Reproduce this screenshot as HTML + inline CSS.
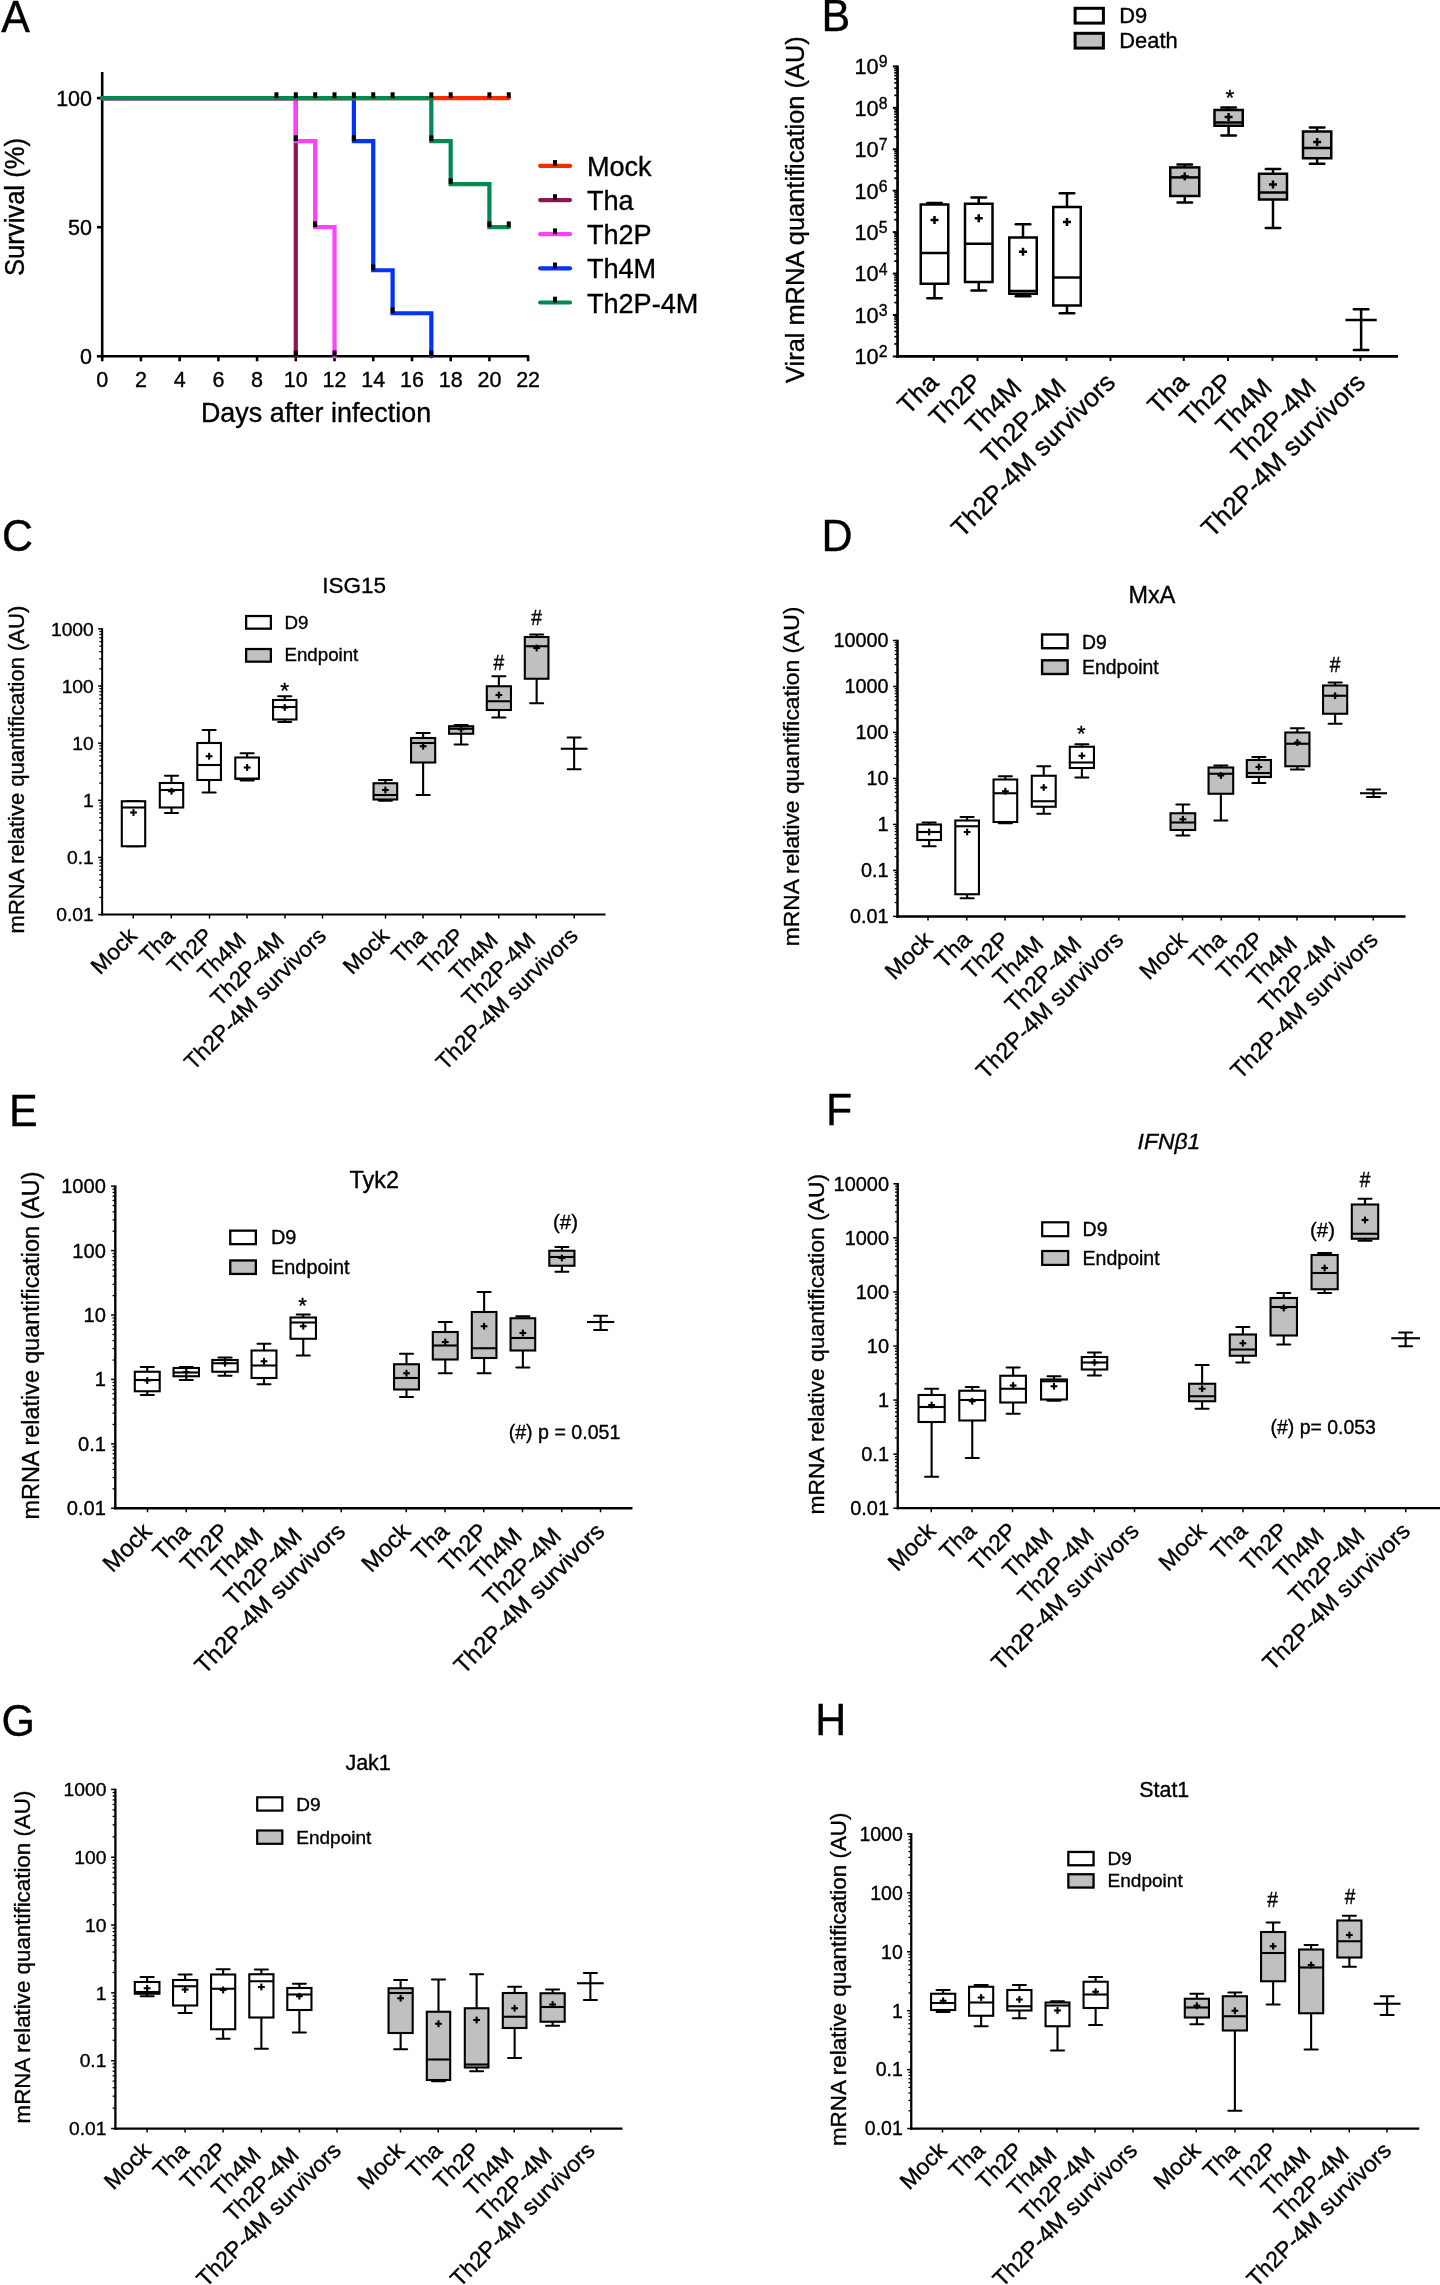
<!DOCTYPE html>
<html><head><meta charset="utf-8"><title>Figure</title>
<style>
html,body{margin:0;padding:0;background:#fff;}
body{width:1440px;height:2285px;overflow:hidden;}
svg{display:block;will-change:transform;}
svg text{font-family:"Liberation Sans", sans-serif;fill:#000;stroke:#000;stroke-width:0.35px;}
</style></head><body>
<svg width="1440" height="2285" viewBox="0 0 1440 2285">
<rect x="0" y="0" width="1440" height="2285" fill="#fff"/>
<text x="0" y="0" font-size="43" transform="translate(1.2 31.7) scale(1 1.045)">A</text>
<line x1="102.2" y1="72" x2="102.2" y2="357.55" stroke="#000" stroke-width="2.6" stroke-linecap="butt"/>
<line x1="100.9" y1="356.3" x2="529.12" y2="356.3" stroke="#000" stroke-width="2.6" stroke-linecap="butt"/>
<line x1="96.9" y1="356.3" x2="102.2" y2="356.3" stroke="#000" stroke-width="2.6" stroke-linecap="butt"/>
<text x="92" y="363.9" font-size="21.5" text-anchor="end" >0</text>
<line x1="96.9" y1="227.2" x2="102.2" y2="227.2" stroke="#000" stroke-width="2.6" stroke-linecap="butt"/>
<text x="92" y="234.8" font-size="21.5" text-anchor="end" >50</text>
<line x1="96.9" y1="98.1" x2="102.2" y2="98.1" stroke="#000" stroke-width="2.6" stroke-linecap="butt"/>
<text x="92" y="105.7" font-size="21.5" text-anchor="end" >100</text>
<line x1="102.2" y1="356.3" x2="102.2" y2="361.3" stroke="#000" stroke-width="2.6" stroke-linecap="butt"/>
<text x="102.2" y="386.6" font-size="21.5" text-anchor="middle" >0</text>
<line x1="140.92" y1="356.3" x2="140.92" y2="361.3" stroke="#000" stroke-width="2.6" stroke-linecap="butt"/>
<text x="140.92" y="386.6" font-size="21.5" text-anchor="middle" >2</text>
<line x1="179.64" y1="356.3" x2="179.64" y2="361.3" stroke="#000" stroke-width="2.6" stroke-linecap="butt"/>
<text x="179.64" y="386.6" font-size="21.5" text-anchor="middle" >4</text>
<line x1="218.36" y1="356.3" x2="218.36" y2="361.3" stroke="#000" stroke-width="2.6" stroke-linecap="butt"/>
<text x="218.36" y="386.6" font-size="21.5" text-anchor="middle" >6</text>
<line x1="257.08" y1="356.3" x2="257.08" y2="361.3" stroke="#000" stroke-width="2.6" stroke-linecap="butt"/>
<text x="257.08" y="386.6" font-size="21.5" text-anchor="middle" >8</text>
<line x1="295.8" y1="356.3" x2="295.8" y2="361.3" stroke="#000" stroke-width="2.6" stroke-linecap="butt"/>
<text x="295.8" y="386.6" font-size="21.5" text-anchor="middle" >10</text>
<line x1="334.52" y1="356.3" x2="334.52" y2="361.3" stroke="#000" stroke-width="2.6" stroke-linecap="butt"/>
<text x="334.52" y="386.6" font-size="21.5" text-anchor="middle" >12</text>
<line x1="373.24" y1="356.3" x2="373.24" y2="361.3" stroke="#000" stroke-width="2.6" stroke-linecap="butt"/>
<text x="373.24" y="386.6" font-size="21.5" text-anchor="middle" >14</text>
<line x1="411.96" y1="356.3" x2="411.96" y2="361.3" stroke="#000" stroke-width="2.6" stroke-linecap="butt"/>
<text x="411.96" y="386.6" font-size="21.5" text-anchor="middle" >16</text>
<line x1="450.68" y1="356.3" x2="450.68" y2="361.3" stroke="#000" stroke-width="2.6" stroke-linecap="butt"/>
<text x="450.68" y="386.6" font-size="21.5" text-anchor="middle" >18</text>
<line x1="489.4" y1="356.3" x2="489.4" y2="361.3" stroke="#000" stroke-width="2.6" stroke-linecap="butt"/>
<text x="489.4" y="386.6" font-size="21.5" text-anchor="middle" >20</text>
<line x1="528.12" y1="356.3" x2="528.12" y2="361.3" stroke="#000" stroke-width="2.6" stroke-linecap="butt"/>
<text x="528.12" y="386.6" font-size="21.5" text-anchor="middle" >22</text>
<text x="316.05" y="422.3" font-size="26.9" text-anchor="middle" >Days after infection</text>
<text x="0" y="0" font-size="25.6" text-anchor="middle" transform="translate(24 207) rotate(-90) scale(1 1.07)">Survival (%)</text>
<path d="M102.2 98.1 H295.8 V356.3" fill="none" stroke="#8c164f" stroke-width="4.2" stroke-linecap="round" stroke-linejoin="miter"/>
<path d="M102.2 98.1 H295.8 V141.142 H315.16 V227.2 H334.52 V356.3" fill="none" stroke="#ff40ff" stroke-width="4.2" stroke-linecap="round" stroke-linejoin="miter"/>
<path d="M102.2 98.1 H353.88 V141.142 H373.24 V270.242 H392.6 V313.258 H431.32 V356.3" fill="none" stroke="#0033ff" stroke-width="4.2" stroke-linecap="round" stroke-linejoin="miter"/>
<path d="M102.2 98.1 H508.76" fill="none" stroke="#ff2a00" stroke-width="4.2" stroke-linecap="round" stroke-linejoin="miter"/>
<path d="M102.2 98.1 H431.32 V141.142 H450.68 V184.158 H489.4 V227.2 H508.76" fill="none" stroke="#008a50" stroke-width="4.2" stroke-linecap="round" stroke-linejoin="miter"/>
<rect x="274.44" y="92.3" width="4" height="5.8" fill="#000"/>
<rect x="293.8" y="92.3" width="4" height="5.8" fill="#000"/>
<rect x="313.16" y="92.3" width="4" height="5.8" fill="#000"/>
<rect x="332.52" y="92.3" width="4" height="5.8" fill="#000"/>
<rect x="351.88" y="92.3" width="4" height="5.8" fill="#000"/>
<rect x="371.24" y="92.3" width="4" height="5.8" fill="#000"/>
<rect x="390.6" y="92.3" width="4" height="5.8" fill="#000"/>
<rect x="429.32" y="92.3" width="4" height="5.8" fill="#000"/>
<rect x="448.68" y="92.3" width="4" height="5.8" fill="#000"/>
<rect x="487.4" y="92.3" width="4" height="5.8" fill="#000"/>
<rect x="506.76" y="92.3" width="4" height="5.8" fill="#000"/>
<rect x="293.8" y="135.342" width="4" height="5.8" fill="#000"/>
<rect x="351.88" y="135.342" width="4" height="5.8" fill="#000"/>
<rect x="429.32" y="135.342" width="4" height="5.8" fill="#000"/>
<rect x="448.68" y="178.358" width="4" height="5.8" fill="#000"/>
<rect x="313.16" y="221.4" width="4" height="5.8" fill="#000"/>
<rect x="487.4" y="221.4" width="4" height="5.8" fill="#000"/>
<rect x="506.76" y="221.4" width="4" height="5.8" fill="#000"/>
<rect x="371.24" y="264.442" width="4" height="5.8" fill="#000"/>
<rect x="390.6" y="307.458" width="4" height="5.8" fill="#000"/>
<rect x="293.8" y="350.5" width="4" height="5.8" fill="#000"/>
<rect x="332.52" y="350.5" width="4" height="5.8" fill="#000"/>
<rect x="429.32" y="350.5" width="4" height="5.8" fill="#000"/>
<line x1="540.2" y1="165.9" x2="570" y2="165.9" stroke="#ff2a00" stroke-width="4.2" stroke-linecap="round"/>
<rect x="553" y="160.1" width="4" height="5.8" fill="#000"/>
<text x="586.9" y="176" font-size="27.1" text-anchor="start" >Mock</text>
<line x1="540.2" y1="200.05" x2="570" y2="200.05" stroke="#8c164f" stroke-width="4.2" stroke-linecap="round"/>
<rect x="553" y="194.25" width="4" height="5.8" fill="#000"/>
<text x="586.9" y="210.15" font-size="27.1" text-anchor="start" >Tha</text>
<line x1="540.2" y1="234.2" x2="570" y2="234.2" stroke="#ff40ff" stroke-width="4.2" stroke-linecap="round"/>
<rect x="553" y="228.4" width="4" height="5.8" fill="#000"/>
<text x="586.9" y="244.3" font-size="27.1" text-anchor="start" >Th2P</text>
<line x1="540.2" y1="268.35" x2="570" y2="268.35" stroke="#0033ff" stroke-width="4.2" stroke-linecap="round"/>
<rect x="553" y="262.55" width="4" height="5.8" fill="#000"/>
<text x="586.9" y="278.45" font-size="27.1" text-anchor="start" >Th4M</text>
<line x1="540.2" y1="302.5" x2="570" y2="302.5" stroke="#008a50" stroke-width="4.2" stroke-linecap="round"/>
<rect x="553" y="296.7" width="4" height="5.8" fill="#000"/>
<text x="586.9" y="312.6" font-size="27.1" text-anchor="start" >Th2P-4M</text>
<text x="0" y="0" font-size="43" transform="translate(821.5 31.4) scale(1 1.045)">B</text>
<line x1="897.55" y1="65.4" x2="897.55" y2="357.8" stroke="#000" stroke-width="2.7" stroke-linecap="butt"/>
<line x1="896.2" y1="356.45" x2="1398" y2="356.45" stroke="#000" stroke-width="2.7" stroke-linecap="butt"/>
<line x1="892.8" y1="66.4" x2="897.55" y2="66.4" stroke="#000" stroke-width="2" stroke-linecap="butt"/>
<text x="878.7" y="74.3" font-size="21.7" text-anchor="end" >10</text>
<text x="878.8" y="67.4" font-size="15.8" text-anchor="start" >9</text>
<line x1="892.8" y1="107.836" x2="897.55" y2="107.836" stroke="#000" stroke-width="2" stroke-linecap="butt"/>
<text x="878.7" y="115.736" font-size="21.7" text-anchor="end" >10</text>
<text x="878.8" y="108.836" font-size="15.8" text-anchor="start" >8</text>
<line x1="892.8" y1="149.271" x2="897.55" y2="149.271" stroke="#000" stroke-width="2" stroke-linecap="butt"/>
<text x="878.7" y="157.171" font-size="21.7" text-anchor="end" >10</text>
<text x="878.8" y="150.271" font-size="15.8" text-anchor="start" >7</text>
<line x1="892.8" y1="190.707" x2="897.55" y2="190.707" stroke="#000" stroke-width="2" stroke-linecap="butt"/>
<text x="878.7" y="198.607" font-size="21.7" text-anchor="end" >10</text>
<text x="878.8" y="191.707" font-size="15.8" text-anchor="start" >6</text>
<line x1="892.8" y1="232.143" x2="897.55" y2="232.143" stroke="#000" stroke-width="2" stroke-linecap="butt"/>
<text x="878.7" y="240.043" font-size="21.7" text-anchor="end" >10</text>
<text x="878.8" y="233.143" font-size="15.8" text-anchor="start" >5</text>
<line x1="892.8" y1="273.579" x2="897.55" y2="273.579" stroke="#000" stroke-width="2" stroke-linecap="butt"/>
<text x="878.7" y="281.479" font-size="21.7" text-anchor="end" >10</text>
<text x="878.8" y="274.579" font-size="15.8" text-anchor="start" >4</text>
<line x1="892.8" y1="315.014" x2="897.55" y2="315.014" stroke="#000" stroke-width="2" stroke-linecap="butt"/>
<text x="878.7" y="322.914" font-size="21.7" text-anchor="end" >10</text>
<text x="878.8" y="316.014" font-size="15.8" text-anchor="start" >3</text>
<line x1="892.8" y1="356.45" x2="897.55" y2="356.45" stroke="#000" stroke-width="2" stroke-linecap="butt"/>
<text x="878.7" y="364.35" font-size="21.7" text-anchor="end" >10</text>
<text x="878.8" y="357.45" font-size="15.8" text-anchor="start" >2</text>
<line x1="894.25" y1="95.362" x2="897.55" y2="95.362" stroke="#000" stroke-width="1.7" stroke-linecap="butt"/>
<line x1="894.25" y1="88.066" x2="897.55" y2="88.066" stroke="#000" stroke-width="1.7" stroke-linecap="butt"/>
<line x1="894.25" y1="82.889" x2="897.55" y2="82.889" stroke="#000" stroke-width="1.7" stroke-linecap="butt"/>
<line x1="894.25" y1="78.873" x2="897.55" y2="78.873" stroke="#000" stroke-width="1.7" stroke-linecap="butt"/>
<line x1="894.25" y1="75.592" x2="897.55" y2="75.592" stroke="#000" stroke-width="1.7" stroke-linecap="butt"/>
<line x1="894.25" y1="72.818" x2="897.55" y2="72.818" stroke="#000" stroke-width="1.7" stroke-linecap="butt"/>
<line x1="894.25" y1="70.416" x2="897.55" y2="70.416" stroke="#000" stroke-width="1.7" stroke-linecap="butt"/>
<line x1="894.25" y1="68.296" x2="897.55" y2="68.296" stroke="#000" stroke-width="1.7" stroke-linecap="butt"/>
<line x1="894.25" y1="136.798" x2="897.55" y2="136.798" stroke="#000" stroke-width="1.7" stroke-linecap="butt"/>
<line x1="894.25" y1="129.502" x2="897.55" y2="129.502" stroke="#000" stroke-width="1.7" stroke-linecap="butt"/>
<line x1="894.25" y1="124.325" x2="897.55" y2="124.325" stroke="#000" stroke-width="1.7" stroke-linecap="butt"/>
<line x1="894.25" y1="120.309" x2="897.55" y2="120.309" stroke="#000" stroke-width="1.7" stroke-linecap="butt"/>
<line x1="894.25" y1="117.028" x2="897.55" y2="117.028" stroke="#000" stroke-width="1.7" stroke-linecap="butt"/>
<line x1="894.25" y1="114.254" x2="897.55" y2="114.254" stroke="#000" stroke-width="1.7" stroke-linecap="butt"/>
<line x1="894.25" y1="111.851" x2="897.55" y2="111.851" stroke="#000" stroke-width="1.7" stroke-linecap="butt"/>
<line x1="894.25" y1="109.732" x2="897.55" y2="109.732" stroke="#000" stroke-width="1.7" stroke-linecap="butt"/>
<line x1="894.25" y1="178.234" x2="897.55" y2="178.234" stroke="#000" stroke-width="1.7" stroke-linecap="butt"/>
<line x1="894.25" y1="170.937" x2="897.55" y2="170.937" stroke="#000" stroke-width="1.7" stroke-linecap="butt"/>
<line x1="894.25" y1="165.76" x2="897.55" y2="165.76" stroke="#000" stroke-width="1.7" stroke-linecap="butt"/>
<line x1="894.25" y1="161.745" x2="897.55" y2="161.745" stroke="#000" stroke-width="1.7" stroke-linecap="butt"/>
<line x1="894.25" y1="158.464" x2="897.55" y2="158.464" stroke="#000" stroke-width="1.7" stroke-linecap="butt"/>
<line x1="894.25" y1="155.69" x2="897.55" y2="155.69" stroke="#000" stroke-width="1.7" stroke-linecap="butt"/>
<line x1="894.25" y1="153.287" x2="897.55" y2="153.287" stroke="#000" stroke-width="1.7" stroke-linecap="butt"/>
<line x1="894.25" y1="151.167" x2="897.55" y2="151.167" stroke="#000" stroke-width="1.7" stroke-linecap="butt"/>
<line x1="894.25" y1="219.669" x2="897.55" y2="219.669" stroke="#000" stroke-width="1.7" stroke-linecap="butt"/>
<line x1="894.25" y1="212.373" x2="897.55" y2="212.373" stroke="#000" stroke-width="1.7" stroke-linecap="butt"/>
<line x1="894.25" y1="207.196" x2="897.55" y2="207.196" stroke="#000" stroke-width="1.7" stroke-linecap="butt"/>
<line x1="894.25" y1="203.181" x2="897.55" y2="203.181" stroke="#000" stroke-width="1.7" stroke-linecap="butt"/>
<line x1="894.25" y1="199.9" x2="897.55" y2="199.9" stroke="#000" stroke-width="1.7" stroke-linecap="butt"/>
<line x1="894.25" y1="197.126" x2="897.55" y2="197.126" stroke="#000" stroke-width="1.7" stroke-linecap="butt"/>
<line x1="894.25" y1="194.723" x2="897.55" y2="194.723" stroke="#000" stroke-width="1.7" stroke-linecap="butt"/>
<line x1="894.25" y1="192.603" x2="897.55" y2="192.603" stroke="#000" stroke-width="1.7" stroke-linecap="butt"/>
<line x1="894.25" y1="261.105" x2="897.55" y2="261.105" stroke="#000" stroke-width="1.7" stroke-linecap="butt"/>
<line x1="894.25" y1="253.809" x2="897.55" y2="253.809" stroke="#000" stroke-width="1.7" stroke-linecap="butt"/>
<line x1="894.25" y1="248.632" x2="897.55" y2="248.632" stroke="#000" stroke-width="1.7" stroke-linecap="butt"/>
<line x1="894.25" y1="244.616" x2="897.55" y2="244.616" stroke="#000" stroke-width="1.7" stroke-linecap="butt"/>
<line x1="894.25" y1="241.335" x2="897.55" y2="241.335" stroke="#000" stroke-width="1.7" stroke-linecap="butt"/>
<line x1="894.25" y1="238.561" x2="897.55" y2="238.561" stroke="#000" stroke-width="1.7" stroke-linecap="butt"/>
<line x1="894.25" y1="236.158" x2="897.55" y2="236.158" stroke="#000" stroke-width="1.7" stroke-linecap="butt"/>
<line x1="894.25" y1="234.039" x2="897.55" y2="234.039" stroke="#000" stroke-width="1.7" stroke-linecap="butt"/>
<line x1="894.25" y1="302.541" x2="897.55" y2="302.541" stroke="#000" stroke-width="1.7" stroke-linecap="butt"/>
<line x1="894.25" y1="295.244" x2="897.55" y2="295.244" stroke="#000" stroke-width="1.7" stroke-linecap="butt"/>
<line x1="894.25" y1="290.067" x2="897.55" y2="290.067" stroke="#000" stroke-width="1.7" stroke-linecap="butt"/>
<line x1="894.25" y1="286.052" x2="897.55" y2="286.052" stroke="#000" stroke-width="1.7" stroke-linecap="butt"/>
<line x1="894.25" y1="282.771" x2="897.55" y2="282.771" stroke="#000" stroke-width="1.7" stroke-linecap="butt"/>
<line x1="894.25" y1="279.997" x2="897.55" y2="279.997" stroke="#000" stroke-width="1.7" stroke-linecap="butt"/>
<line x1="894.25" y1="277.594" x2="897.55" y2="277.594" stroke="#000" stroke-width="1.7" stroke-linecap="butt"/>
<line x1="894.25" y1="275.475" x2="897.55" y2="275.475" stroke="#000" stroke-width="1.7" stroke-linecap="butt"/>
<line x1="894.25" y1="343.977" x2="897.55" y2="343.977" stroke="#000" stroke-width="1.7" stroke-linecap="butt"/>
<line x1="894.25" y1="336.68" x2="897.55" y2="336.68" stroke="#000" stroke-width="1.7" stroke-linecap="butt"/>
<line x1="894.25" y1="331.503" x2="897.55" y2="331.503" stroke="#000" stroke-width="1.7" stroke-linecap="butt"/>
<line x1="894.25" y1="327.488" x2="897.55" y2="327.488" stroke="#000" stroke-width="1.7" stroke-linecap="butt"/>
<line x1="894.25" y1="324.207" x2="897.55" y2="324.207" stroke="#000" stroke-width="1.7" stroke-linecap="butt"/>
<line x1="894.25" y1="321.433" x2="897.55" y2="321.433" stroke="#000" stroke-width="1.7" stroke-linecap="butt"/>
<line x1="894.25" y1="319.03" x2="897.55" y2="319.03" stroke="#000" stroke-width="1.7" stroke-linecap="butt"/>
<line x1="894.25" y1="316.91" x2="897.55" y2="316.91" stroke="#000" stroke-width="1.7" stroke-linecap="butt"/>
<line x1="933.75" y1="356.45" x2="933.75" y2="360.95" stroke="#000" stroke-width="2" stroke-linecap="butt"/>
<line x1="977.5" y1="356.45" x2="977.5" y2="360.95" stroke="#000" stroke-width="2" stroke-linecap="butt"/>
<line x1="1022" y1="356.45" x2="1022" y2="360.95" stroke="#000" stroke-width="2" stroke-linecap="butt"/>
<line x1="1066.5" y1="356.45" x2="1066.5" y2="360.95" stroke="#000" stroke-width="2" stroke-linecap="butt"/>
<line x1="1110.5" y1="356.45" x2="1110.5" y2="360.95" stroke="#000" stroke-width="2" stroke-linecap="butt"/>
<line x1="1183.75" y1="356.45" x2="1183.75" y2="360.95" stroke="#000" stroke-width="2" stroke-linecap="butt"/>
<line x1="1228" y1="356.45" x2="1228" y2="360.95" stroke="#000" stroke-width="2" stroke-linecap="butt"/>
<line x1="1272.5" y1="356.45" x2="1272.5" y2="360.95" stroke="#000" stroke-width="2" stroke-linecap="butt"/>
<line x1="1316.5" y1="356.45" x2="1316.5" y2="360.95" stroke="#000" stroke-width="2" stroke-linecap="butt"/>
<line x1="1360.5" y1="356.45" x2="1360.5" y2="360.95" stroke="#000" stroke-width="2" stroke-linecap="butt"/>
<text x="940.05" y="383.95" font-size="26.1" text-anchor="end" transform="rotate(-45 940.05 383.95)">Tha</text>
<text x="983.8" y="383.95" font-size="26.1" text-anchor="end" transform="rotate(-45 983.8 383.95)">Th2P</text>
<text x="1028.3" y="383.95" font-size="26.1" text-anchor="end" transform="rotate(-45 1028.3 383.95)">Th4M&#160;</text>
<text x="1072.8" y="383.95" font-size="26.1" text-anchor="end" transform="rotate(-45 1072.8 383.95)">Th2P-4M&#160;</text>
<text x="1116.8" y="383.95" font-size="26.1" text-anchor="end" transform="rotate(-45 1116.8 383.95)">Th2P-4M survivors</text>
<text x="1190.05" y="383.95" font-size="26.1" text-anchor="end" transform="rotate(-45 1190.05 383.95)">Tha</text>
<text x="1234.3" y="383.95" font-size="26.1" text-anchor="end" transform="rotate(-45 1234.3 383.95)">Th2P</text>
<text x="1278.8" y="383.95" font-size="26.1" text-anchor="end" transform="rotate(-45 1278.8 383.95)">Th4M&#160;</text>
<text x="1322.8" y="383.95" font-size="26.1" text-anchor="end" transform="rotate(-45 1322.8 383.95)">Th2P-4M&#160;</text>
<text x="1366.8" y="383.95" font-size="26.1" text-anchor="end" transform="rotate(-45 1366.8 383.95)">Th2P-4M survivors</text>
<line x1="934.5" y1="203" x2="934.5" y2="204.5" stroke="#000" stroke-width="2.5" stroke-linecap="butt"/>
<line x1="934.5" y1="283.75" x2="934.5" y2="298.25" stroke="#000" stroke-width="2.5" stroke-linecap="butt"/>
<line x1="927.25" y1="203" x2="941.75" y2="203" stroke="#000" stroke-width="2.5" stroke-linecap="round"/>
<line x1="927.25" y1="298.25" x2="941.75" y2="298.25" stroke="#000" stroke-width="2.5" stroke-linecap="round"/>
<rect x="920.75" y="204.5" width="27.5" height="79.25" fill="#fff" stroke="#000" stroke-width="2.5"/>
<line x1="920.75" y1="253" x2="948.25" y2="253" stroke="#000" stroke-width="2.5" stroke-linecap="butt"/>
<line x1="930.5" y1="220" x2="938.5" y2="220" stroke="#000" stroke-width="2.5" stroke-linecap="butt"/>
<line x1="934.5" y1="216" x2="934.5" y2="224" stroke="#000" stroke-width="2.5" stroke-linecap="butt"/>
<line x1="978.75" y1="197.5" x2="978.75" y2="203.75" stroke="#000" stroke-width="2.5" stroke-linecap="butt"/>
<line x1="978.75" y1="282" x2="978.75" y2="290.5" stroke="#000" stroke-width="2.5" stroke-linecap="butt"/>
<line x1="971.5" y1="197.5" x2="986" y2="197.5" stroke="#000" stroke-width="2.5" stroke-linecap="round"/>
<line x1="971.5" y1="290.5" x2="986" y2="290.5" stroke="#000" stroke-width="2.5" stroke-linecap="round"/>
<rect x="965" y="203.75" width="27.5" height="78.25" fill="#fff" stroke="#000" stroke-width="2.5"/>
<line x1="965" y1="243.75" x2="992.5" y2="243.75" stroke="#000" stroke-width="2.5" stroke-linecap="butt"/>
<line x1="974.75" y1="218.25" x2="982.75" y2="218.25" stroke="#000" stroke-width="2.5" stroke-linecap="butt"/>
<line x1="978.75" y1="214.25" x2="978.75" y2="222.25" stroke="#000" stroke-width="2.5" stroke-linecap="butt"/>
<line x1="1023" y1="224.25" x2="1023" y2="237.5" stroke="#000" stroke-width="2.5" stroke-linecap="butt"/>
<line x1="1023" y1="293.75" x2="1023" y2="296.25" stroke="#000" stroke-width="2.5" stroke-linecap="butt"/>
<line x1="1015.75" y1="224.25" x2="1030.25" y2="224.25" stroke="#000" stroke-width="2.5" stroke-linecap="round"/>
<line x1="1015.75" y1="296.25" x2="1030.25" y2="296.25" stroke="#000" stroke-width="2.5" stroke-linecap="round"/>
<rect x="1009.25" y="237.5" width="27.5" height="56.25" fill="#fff" stroke="#000" stroke-width="2.5"/>
<line x1="1009.25" y1="291" x2="1036.75" y2="291" stroke="#000" stroke-width="2.5" stroke-linecap="butt"/>
<line x1="1019" y1="251.75" x2="1027" y2="251.75" stroke="#000" stroke-width="2.5" stroke-linecap="butt"/>
<line x1="1023" y1="247.75" x2="1023" y2="255.75" stroke="#000" stroke-width="2.5" stroke-linecap="butt"/>
<line x1="1067" y1="193.25" x2="1067" y2="207" stroke="#000" stroke-width="2.5" stroke-linecap="butt"/>
<line x1="1067" y1="305.5" x2="1067" y2="313.25" stroke="#000" stroke-width="2.5" stroke-linecap="butt"/>
<line x1="1059.75" y1="193.25" x2="1074.25" y2="193.25" stroke="#000" stroke-width="2.5" stroke-linecap="round"/>
<line x1="1059.75" y1="313.25" x2="1074.25" y2="313.25" stroke="#000" stroke-width="2.5" stroke-linecap="round"/>
<rect x="1053.25" y="207" width="27.5" height="98.5" fill="#fff" stroke="#000" stroke-width="2.5"/>
<line x1="1053.25" y1="277.5" x2="1080.75" y2="277.5" stroke="#000" stroke-width="2.5" stroke-linecap="butt"/>
<line x1="1063" y1="222" x2="1071" y2="222" stroke="#000" stroke-width="2.5" stroke-linecap="butt"/>
<line x1="1067" y1="218" x2="1067" y2="226" stroke="#000" stroke-width="2.5" stroke-linecap="butt"/>
<line x1="1184.75" y1="164.5" x2="1184.75" y2="167.4" stroke="#000" stroke-width="2.5" stroke-linecap="butt"/>
<line x1="1184.75" y1="196" x2="1184.75" y2="202.6" stroke="#000" stroke-width="2.5" stroke-linecap="butt"/>
<line x1="1177.5" y1="164.5" x2="1192" y2="164.5" stroke="#000" stroke-width="2.5" stroke-linecap="round"/>
<line x1="1177.5" y1="202.6" x2="1192" y2="202.6" stroke="#000" stroke-width="2.5" stroke-linecap="round"/>
<rect x="1170.25" y="167.4" width="29" height="28.6" fill="#c0c0c0" stroke="#000" stroke-width="2.5"/>
<line x1="1170.25" y1="177.4" x2="1199.25" y2="177.4" stroke="#000" stroke-width="2.5" stroke-linecap="butt"/>
<line x1="1180.75" y1="176.4" x2="1188.75" y2="176.4" stroke="#000" stroke-width="2.5" stroke-linecap="butt"/>
<line x1="1184.75" y1="172.4" x2="1184.75" y2="180.4" stroke="#000" stroke-width="2.5" stroke-linecap="butt"/>
<line x1="1228.625" y1="107.5" x2="1228.625" y2="110" stroke="#000" stroke-width="2.5" stroke-linecap="butt"/>
<line x1="1228.625" y1="125.75" x2="1228.625" y2="135.5" stroke="#000" stroke-width="2.5" stroke-linecap="butt"/>
<line x1="1221.375" y1="107.5" x2="1235.875" y2="107.5" stroke="#000" stroke-width="2.5" stroke-linecap="round"/>
<line x1="1221.375" y1="135.5" x2="1235.875" y2="135.5" stroke="#000" stroke-width="2.5" stroke-linecap="round"/>
<rect x="1214.5" y="110" width="28.25" height="15.75" fill="#c0c0c0" stroke="#000" stroke-width="2.5"/>
<line x1="1214.5" y1="122.5" x2="1242.75" y2="122.5" stroke="#000" stroke-width="2.5" stroke-linecap="butt"/>
<line x1="1224.625" y1="117" x2="1232.625" y2="117" stroke="#000" stroke-width="2.5" stroke-linecap="butt"/>
<line x1="1228.625" y1="113" x2="1228.625" y2="121" stroke="#000" stroke-width="2.5" stroke-linecap="butt"/>
<line x1="1273" y1="169" x2="1273" y2="173.75" stroke="#000" stroke-width="2.5" stroke-linecap="butt"/>
<line x1="1273" y1="199.5" x2="1273" y2="228" stroke="#000" stroke-width="2.5" stroke-linecap="butt"/>
<line x1="1265.75" y1="169" x2="1280.25" y2="169" stroke="#000" stroke-width="2.5" stroke-linecap="round"/>
<line x1="1265.75" y1="228" x2="1280.25" y2="228" stroke="#000" stroke-width="2.5" stroke-linecap="round"/>
<rect x="1259" y="173.75" width="28" height="25.75" fill="#c0c0c0" stroke="#000" stroke-width="2.5"/>
<line x1="1259" y1="192.5" x2="1287" y2="192.5" stroke="#000" stroke-width="2.5" stroke-linecap="butt"/>
<line x1="1269" y1="184.5" x2="1277" y2="184.5" stroke="#000" stroke-width="2.5" stroke-linecap="butt"/>
<line x1="1273" y1="180.5" x2="1273" y2="188.5" stroke="#000" stroke-width="2.5" stroke-linecap="butt"/>
<line x1="1317.125" y1="127.5" x2="1317.125" y2="131.5" stroke="#000" stroke-width="2.5" stroke-linecap="butt"/>
<line x1="1317.125" y1="158.25" x2="1317.125" y2="163.75" stroke="#000" stroke-width="2.5" stroke-linecap="butt"/>
<line x1="1309.875" y1="127.5" x2="1324.375" y2="127.5" stroke="#000" stroke-width="2.5" stroke-linecap="round"/>
<line x1="1309.875" y1="163.75" x2="1324.375" y2="163.75" stroke="#000" stroke-width="2.5" stroke-linecap="round"/>
<rect x="1303" y="131.5" width="28.25" height="26.75" fill="#c0c0c0" stroke="#000" stroke-width="2.5"/>
<line x1="1303" y1="148" x2="1331.25" y2="148" stroke="#000" stroke-width="2.5" stroke-linecap="butt"/>
<line x1="1313.125" y1="142" x2="1321.125" y2="142" stroke="#000" stroke-width="2.5" stroke-linecap="butt"/>
<line x1="1317.125" y1="138" x2="1317.125" y2="146" stroke="#000" stroke-width="2.5" stroke-linecap="butt"/>
<line x1="1361.125" y1="309.25" x2="1361.125" y2="350" stroke="#000" stroke-width="2.5" stroke-linecap="butt"/>
<line x1="1353.875" y1="309.25" x2="1368.375" y2="309.25" stroke="#000" stroke-width="2.5" stroke-linecap="round"/>
<line x1="1353.875" y1="350" x2="1368.375" y2="350" stroke="#000" stroke-width="2.5" stroke-linecap="round"/>
<line x1="1345.5" y1="320" x2="1376.75" y2="320" stroke="#000" stroke-width="2.5" stroke-linecap="butt"/>
<rect x="1075.1" y="8.3" width="28.3" height="14.8" fill="#fff" stroke="#000" stroke-width="3"/>
<rect x="1075.1" y="33.3" width="28.3" height="14.8" fill="#c0c0c0" stroke="#000" stroke-width="3"/>
<text x="1119.3" y="23" font-size="21.9" text-anchor="start" >D9</text>
<text x="1119.3" y="47.8" font-size="21.9" text-anchor="start" >Death</text>
<text x="804.5" y="209.6" font-size="25.4" text-anchor="middle" transform="rotate(-90 804.5 209.6)">Viral mRNA quantification (AU)</text>
<text x="1230" y="104.8" font-size="22.5" text-anchor="middle" >*</text>
<text x="0" y="0" font-size="43" transform="translate(2.05 551.2) scale(1 1.045)">C</text>
<line x1="102.15" y1="628.15" x2="102.15" y2="915.6" stroke="#000" stroke-width="2" stroke-linecap="butt"/>
<line x1="101.15" y1="914.6" x2="605.5" y2="914.6" stroke="#000" stroke-width="2" stroke-linecap="butt"/>
<line x1="98.1" y1="628.9" x2="102.15" y2="628.9" stroke="#000" stroke-width="1.5" stroke-linecap="butt"/>
<text x="93.75" y="635.637" font-size="19.25" text-anchor="end" >1000</text>
<line x1="98.1" y1="686.04" x2="102.15" y2="686.04" stroke="#000" stroke-width="1.5" stroke-linecap="butt"/>
<text x="93.75" y="692.777" font-size="19.25" text-anchor="end" >100</text>
<line x1="98.1" y1="743.18" x2="102.15" y2="743.18" stroke="#000" stroke-width="1.5" stroke-linecap="butt"/>
<text x="93.75" y="749.917" font-size="19.25" text-anchor="end" >10</text>
<line x1="98.1" y1="800.32" x2="102.15" y2="800.32" stroke="#000" stroke-width="1.5" stroke-linecap="butt"/>
<text x="93.75" y="807.057" font-size="19.25" text-anchor="end" >1</text>
<line x1="98.1" y1="857.46" x2="102.15" y2="857.46" stroke="#000" stroke-width="1.5" stroke-linecap="butt"/>
<text x="93.75" y="864.197" font-size="19.25" text-anchor="end" >0.1</text>
<line x1="98.1" y1="914.6" x2="102.15" y2="914.6" stroke="#000" stroke-width="1.5" stroke-linecap="butt"/>
<text x="93.75" y="921.337" font-size="19.25" text-anchor="end" >0.01</text>
<line x1="99.35" y1="668.839" x2="102.15" y2="668.839" stroke="#000" stroke-width="1.275" stroke-linecap="butt"/>
<line x1="99.35" y1="658.777" x2="102.15" y2="658.777" stroke="#000" stroke-width="1.275" stroke-linecap="butt"/>
<line x1="99.35" y1="651.638" x2="102.15" y2="651.638" stroke="#000" stroke-width="1.275" stroke-linecap="butt"/>
<line x1="99.35" y1="646.101" x2="102.15" y2="646.101" stroke="#000" stroke-width="1.275" stroke-linecap="butt"/>
<line x1="99.35" y1="641.576" x2="102.15" y2="641.576" stroke="#000" stroke-width="1.275" stroke-linecap="butt"/>
<line x1="99.35" y1="637.751" x2="102.15" y2="637.751" stroke="#000" stroke-width="1.275" stroke-linecap="butt"/>
<line x1="99.35" y1="634.437" x2="102.15" y2="634.437" stroke="#000" stroke-width="1.275" stroke-linecap="butt"/>
<line x1="99.35" y1="631.515" x2="102.15" y2="631.515" stroke="#000" stroke-width="1.275" stroke-linecap="butt"/>
<line x1="99.35" y1="725.979" x2="102.15" y2="725.979" stroke="#000" stroke-width="1.275" stroke-linecap="butt"/>
<line x1="99.35" y1="715.917" x2="102.15" y2="715.917" stroke="#000" stroke-width="1.275" stroke-linecap="butt"/>
<line x1="99.35" y1="708.778" x2="102.15" y2="708.778" stroke="#000" stroke-width="1.275" stroke-linecap="butt"/>
<line x1="99.35" y1="703.241" x2="102.15" y2="703.241" stroke="#000" stroke-width="1.275" stroke-linecap="butt"/>
<line x1="99.35" y1="698.716" x2="102.15" y2="698.716" stroke="#000" stroke-width="1.275" stroke-linecap="butt"/>
<line x1="99.35" y1="694.891" x2="102.15" y2="694.891" stroke="#000" stroke-width="1.275" stroke-linecap="butt"/>
<line x1="99.35" y1="691.577" x2="102.15" y2="691.577" stroke="#000" stroke-width="1.275" stroke-linecap="butt"/>
<line x1="99.35" y1="688.655" x2="102.15" y2="688.655" stroke="#000" stroke-width="1.275" stroke-linecap="butt"/>
<line x1="99.35" y1="783.119" x2="102.15" y2="783.119" stroke="#000" stroke-width="1.275" stroke-linecap="butt"/>
<line x1="99.35" y1="773.057" x2="102.15" y2="773.057" stroke="#000" stroke-width="1.275" stroke-linecap="butt"/>
<line x1="99.35" y1="765.918" x2="102.15" y2="765.918" stroke="#000" stroke-width="1.275" stroke-linecap="butt"/>
<line x1="99.35" y1="760.381" x2="102.15" y2="760.381" stroke="#000" stroke-width="1.275" stroke-linecap="butt"/>
<line x1="99.35" y1="755.856" x2="102.15" y2="755.856" stroke="#000" stroke-width="1.275" stroke-linecap="butt"/>
<line x1="99.35" y1="752.031" x2="102.15" y2="752.031" stroke="#000" stroke-width="1.275" stroke-linecap="butt"/>
<line x1="99.35" y1="748.717" x2="102.15" y2="748.717" stroke="#000" stroke-width="1.275" stroke-linecap="butt"/>
<line x1="99.35" y1="745.795" x2="102.15" y2="745.795" stroke="#000" stroke-width="1.275" stroke-linecap="butt"/>
<line x1="99.35" y1="840.259" x2="102.15" y2="840.259" stroke="#000" stroke-width="1.275" stroke-linecap="butt"/>
<line x1="99.35" y1="830.197" x2="102.15" y2="830.197" stroke="#000" stroke-width="1.275" stroke-linecap="butt"/>
<line x1="99.35" y1="823.058" x2="102.15" y2="823.058" stroke="#000" stroke-width="1.275" stroke-linecap="butt"/>
<line x1="99.35" y1="817.521" x2="102.15" y2="817.521" stroke="#000" stroke-width="1.275" stroke-linecap="butt"/>
<line x1="99.35" y1="812.996" x2="102.15" y2="812.996" stroke="#000" stroke-width="1.275" stroke-linecap="butt"/>
<line x1="99.35" y1="809.171" x2="102.15" y2="809.171" stroke="#000" stroke-width="1.275" stroke-linecap="butt"/>
<line x1="99.35" y1="805.857" x2="102.15" y2="805.857" stroke="#000" stroke-width="1.275" stroke-linecap="butt"/>
<line x1="99.35" y1="802.935" x2="102.15" y2="802.935" stroke="#000" stroke-width="1.275" stroke-linecap="butt"/>
<line x1="99.35" y1="897.399" x2="102.15" y2="897.399" stroke="#000" stroke-width="1.275" stroke-linecap="butt"/>
<line x1="99.35" y1="887.337" x2="102.15" y2="887.337" stroke="#000" stroke-width="1.275" stroke-linecap="butt"/>
<line x1="99.35" y1="880.198" x2="102.15" y2="880.198" stroke="#000" stroke-width="1.275" stroke-linecap="butt"/>
<line x1="99.35" y1="874.661" x2="102.15" y2="874.661" stroke="#000" stroke-width="1.275" stroke-linecap="butt"/>
<line x1="99.35" y1="870.136" x2="102.15" y2="870.136" stroke="#000" stroke-width="1.275" stroke-linecap="butt"/>
<line x1="99.35" y1="866.311" x2="102.15" y2="866.311" stroke="#000" stroke-width="1.275" stroke-linecap="butt"/>
<line x1="99.35" y1="862.997" x2="102.15" y2="862.997" stroke="#000" stroke-width="1.275" stroke-linecap="butt"/>
<line x1="99.35" y1="860.075" x2="102.15" y2="860.075" stroke="#000" stroke-width="1.275" stroke-linecap="butt"/>
<line x1="133.25" y1="914.6" x2="133.25" y2="918.6" stroke="#000" stroke-width="1.5" stroke-linecap="butt"/>
<line x1="171.25" y1="914.6" x2="171.25" y2="918.6" stroke="#000" stroke-width="1.5" stroke-linecap="butt"/>
<line x1="209.5" y1="914.6" x2="209.5" y2="918.6" stroke="#000" stroke-width="1.5" stroke-linecap="butt"/>
<line x1="247" y1="914.6" x2="247" y2="918.6" stroke="#000" stroke-width="1.5" stroke-linecap="butt"/>
<line x1="285" y1="914.6" x2="285" y2="918.6" stroke="#000" stroke-width="1.5" stroke-linecap="butt"/>
<line x1="322.5" y1="914.6" x2="322.5" y2="918.6" stroke="#000" stroke-width="1.5" stroke-linecap="butt"/>
<line x1="385.5" y1="914.6" x2="385.5" y2="918.6" stroke="#000" stroke-width="1.5" stroke-linecap="butt"/>
<line x1="423" y1="914.6" x2="423" y2="918.6" stroke="#000" stroke-width="1.5" stroke-linecap="butt"/>
<line x1="460.75" y1="914.6" x2="460.75" y2="918.6" stroke="#000" stroke-width="1.5" stroke-linecap="butt"/>
<line x1="498.75" y1="914.6" x2="498.75" y2="918.6" stroke="#000" stroke-width="1.5" stroke-linecap="butt"/>
<line x1="536.25" y1="914.6" x2="536.25" y2="918.6" stroke="#000" stroke-width="1.5" stroke-linecap="butt"/>
<line x1="574.25" y1="914.6" x2="574.25" y2="918.6" stroke="#000" stroke-width="1.5" stroke-linecap="butt"/>
<text x="138.25" y="937.3" font-size="22.6" text-anchor="end" transform="rotate(-45 138.25 937.3)">Mock</text>
<text x="176.25" y="937.3" font-size="22.6" text-anchor="end" transform="rotate(-45 176.25 937.3)">Tha</text>
<text x="214.5" y="937.3" font-size="22.6" text-anchor="end" transform="rotate(-45 214.5 937.3)">Th2P</text>
<text x="252" y="937.3" font-size="22.6" text-anchor="end" transform="rotate(-45 252 937.3)">Th4M&#160;</text>
<text x="290" y="937.3" font-size="22.6" text-anchor="end" transform="rotate(-45 290 937.3)">Th2P-4M&#160;</text>
<text x="327.5" y="937.3" font-size="22.6" text-anchor="end" transform="rotate(-45 327.5 937.3)">Th2P-4M survivors</text>
<text x="390.5" y="937.3" font-size="22.6" text-anchor="end" transform="rotate(-45 390.5 937.3)">Mock</text>
<text x="428" y="937.3" font-size="22.6" text-anchor="end" transform="rotate(-45 428 937.3)">Tha</text>
<text x="465.75" y="937.3" font-size="22.6" text-anchor="end" transform="rotate(-45 465.75 937.3)">Th2P</text>
<text x="503.75" y="937.3" font-size="22.6" text-anchor="end" transform="rotate(-45 503.75 937.3)">Th4M&#160;</text>
<text x="541.25" y="937.3" font-size="22.6" text-anchor="end" transform="rotate(-45 541.25 937.3)">Th2P-4M&#160;</text>
<text x="579.25" y="937.3" font-size="22.6" text-anchor="end" transform="rotate(-45 579.25 937.3)">Th2P-4M survivors</text>
<line x1="133.5" y1="801.25" x2="133.5" y2="801.25" stroke="#000" stroke-width="2.1" stroke-linecap="butt"/>
<line x1="133.5" y1="846.25" x2="133.5" y2="846.25" stroke="#000" stroke-width="2.1" stroke-linecap="butt"/>
<line x1="127" y1="801.25" x2="140" y2="801.25" stroke="#000" stroke-width="2.1" stroke-linecap="round"/>
<line x1="127" y1="846.25" x2="140" y2="846.25" stroke="#000" stroke-width="2.1" stroke-linecap="round"/>
<rect x="121.8" y="801.25" width="23.4" height="45" fill="#fff" stroke="#000" stroke-width="2.1"/>
<line x1="121.8" y1="807.5" x2="145.2" y2="807.5" stroke="#000" stroke-width="2.1" stroke-linecap="butt"/>
<line x1="130.1" y1="812.5" x2="136.9" y2="812.5" stroke="#000" stroke-width="2.1" stroke-linecap="butt"/>
<line x1="133.5" y1="809.1" x2="133.5" y2="815.9" stroke="#000" stroke-width="2.1" stroke-linecap="butt"/>
<line x1="171.5" y1="775.75" x2="171.5" y2="783" stroke="#000" stroke-width="2.1" stroke-linecap="butt"/>
<line x1="171.5" y1="807.5" x2="171.5" y2="813" stroke="#000" stroke-width="2.1" stroke-linecap="butt"/>
<line x1="165" y1="775.75" x2="178" y2="775.75" stroke="#000" stroke-width="2.1" stroke-linecap="round"/>
<line x1="165" y1="813" x2="178" y2="813" stroke="#000" stroke-width="2.1" stroke-linecap="round"/>
<rect x="159.8" y="783" width="23.4" height="24.5" fill="#fff" stroke="#000" stroke-width="2.1"/>
<line x1="159.8" y1="790" x2="183.2" y2="790" stroke="#000" stroke-width="2.1" stroke-linecap="butt"/>
<line x1="168.1" y1="791.25" x2="174.9" y2="791.25" stroke="#000" stroke-width="2.1" stroke-linecap="butt"/>
<line x1="171.5" y1="787.85" x2="171.5" y2="794.65" stroke="#000" stroke-width="2.1" stroke-linecap="butt"/>
<line x1="209.125" y1="730" x2="209.125" y2="743" stroke="#000" stroke-width="2.1" stroke-linecap="butt"/>
<line x1="209.125" y1="780" x2="209.125" y2="792.5" stroke="#000" stroke-width="2.1" stroke-linecap="butt"/>
<line x1="202.625" y1="730" x2="215.625" y2="730" stroke="#000" stroke-width="2.1" stroke-linecap="round"/>
<line x1="202.625" y1="792.5" x2="215.625" y2="792.5" stroke="#000" stroke-width="2.1" stroke-linecap="round"/>
<rect x="197.3" y="743" width="23.65" height="37" fill="#fff" stroke="#000" stroke-width="2.1"/>
<line x1="197.3" y1="765" x2="220.95" y2="765" stroke="#000" stroke-width="2.1" stroke-linecap="butt"/>
<line x1="205.725" y1="756.25" x2="212.525" y2="756.25" stroke="#000" stroke-width="2.1" stroke-linecap="butt"/>
<line x1="209.125" y1="752.85" x2="209.125" y2="759.65" stroke="#000" stroke-width="2.1" stroke-linecap="butt"/>
<line x1="247.125" y1="753.25" x2="247.125" y2="757.5" stroke="#000" stroke-width="2.1" stroke-linecap="butt"/>
<line x1="247.125" y1="778.75" x2="247.125" y2="780.5" stroke="#000" stroke-width="2.1" stroke-linecap="butt"/>
<line x1="240.625" y1="753.25" x2="253.625" y2="753.25" stroke="#000" stroke-width="2.1" stroke-linecap="round"/>
<line x1="240.625" y1="780.5" x2="253.625" y2="780.5" stroke="#000" stroke-width="2.1" stroke-linecap="round"/>
<rect x="235.3" y="757.5" width="23.65" height="21.25" fill="#fff" stroke="#000" stroke-width="2.1"/>
<line x1="235.3" y1="778.75" x2="258.95" y2="778.75" stroke="#000" stroke-width="2.1" stroke-linecap="butt"/>
<line x1="243.725" y1="767.5" x2="250.525" y2="767.5" stroke="#000" stroke-width="2.1" stroke-linecap="butt"/>
<line x1="247.125" y1="764.1" x2="247.125" y2="770.9" stroke="#000" stroke-width="2.1" stroke-linecap="butt"/>
<line x1="284.75" y1="696.25" x2="284.75" y2="700" stroke="#000" stroke-width="2.1" stroke-linecap="butt"/>
<line x1="284.75" y1="719.5" x2="284.75" y2="722" stroke="#000" stroke-width="2.1" stroke-linecap="butt"/>
<line x1="278.25" y1="696.25" x2="291.25" y2="696.25" stroke="#000" stroke-width="2.1" stroke-linecap="round"/>
<line x1="278.25" y1="722" x2="291.25" y2="722" stroke="#000" stroke-width="2.1" stroke-linecap="round"/>
<rect x="273.05" y="700" width="23.4" height="19.5" fill="#fff" stroke="#000" stroke-width="2.1"/>
<line x1="273.05" y1="707" x2="296.45" y2="707" stroke="#000" stroke-width="2.1" stroke-linecap="butt"/>
<line x1="281.35" y1="707.5" x2="288.15" y2="707.5" stroke="#000" stroke-width="2.1" stroke-linecap="butt"/>
<line x1="284.75" y1="704.1" x2="284.75" y2="710.9" stroke="#000" stroke-width="2.1" stroke-linecap="butt"/>
<line x1="385.375" y1="780" x2="385.375" y2="783.25" stroke="#000" stroke-width="2.1" stroke-linecap="butt"/>
<line x1="385.375" y1="799.5" x2="385.375" y2="800.75" stroke="#000" stroke-width="2.1" stroke-linecap="butt"/>
<line x1="378.875" y1="780" x2="391.875" y2="780" stroke="#000" stroke-width="2.1" stroke-linecap="round"/>
<line x1="378.875" y1="800.75" x2="391.875" y2="800.75" stroke="#000" stroke-width="2.1" stroke-linecap="round"/>
<rect x="373.55" y="783.25" width="23.65" height="16.25" fill="#c0c0c0" stroke="#000" stroke-width="2.1"/>
<line x1="373.55" y1="795" x2="397.2" y2="795" stroke="#000" stroke-width="2.1" stroke-linecap="butt"/>
<line x1="381.975" y1="790" x2="388.775" y2="790" stroke="#000" stroke-width="2.1" stroke-linecap="butt"/>
<line x1="385.375" y1="786.6" x2="385.375" y2="793.4" stroke="#000" stroke-width="2.1" stroke-linecap="butt"/>
<line x1="423.125" y1="733" x2="423.125" y2="738" stroke="#000" stroke-width="2.1" stroke-linecap="butt"/>
<line x1="423.125" y1="762.5" x2="423.125" y2="795" stroke="#000" stroke-width="2.1" stroke-linecap="butt"/>
<line x1="416.625" y1="733" x2="429.625" y2="733" stroke="#000" stroke-width="2.1" stroke-linecap="round"/>
<line x1="416.625" y1="795" x2="429.625" y2="795" stroke="#000" stroke-width="2.1" stroke-linecap="round"/>
<rect x="411.05" y="738" width="24.15" height="24.5" fill="#c0c0c0" stroke="#000" stroke-width="2.1"/>
<line x1="411.05" y1="743" x2="435.2" y2="743" stroke="#000" stroke-width="2.1" stroke-linecap="butt"/>
<line x1="419.725" y1="746.25" x2="426.525" y2="746.25" stroke="#000" stroke-width="2.1" stroke-linecap="butt"/>
<line x1="423.125" y1="742.85" x2="423.125" y2="749.65" stroke="#000" stroke-width="2.1" stroke-linecap="butt"/>
<line x1="461.125" y1="725" x2="461.125" y2="726.25" stroke="#000" stroke-width="2.1" stroke-linecap="butt"/>
<line x1="461.125" y1="733.75" x2="461.125" y2="744.5" stroke="#000" stroke-width="2.1" stroke-linecap="butt"/>
<line x1="454.625" y1="725" x2="467.625" y2="725" stroke="#000" stroke-width="2.1" stroke-linecap="round"/>
<line x1="454.625" y1="744.5" x2="467.625" y2="744.5" stroke="#000" stroke-width="2.1" stroke-linecap="round"/>
<rect x="449.05" y="726.25" width="24.15" height="7.5" fill="#c0c0c0" stroke="#000" stroke-width="2.1"/>
<line x1="449.05" y1="728.75" x2="473.2" y2="728.75" stroke="#000" stroke-width="2.1" stroke-linecap="butt"/>
<line x1="457.725" y1="729.25" x2="464.525" y2="729.25" stroke="#000" stroke-width="2.1" stroke-linecap="butt"/>
<line x1="461.125" y1="725.85" x2="461.125" y2="732.65" stroke="#000" stroke-width="2.1" stroke-linecap="butt"/>
<line x1="498.875" y1="676.25" x2="498.875" y2="686.25" stroke="#000" stroke-width="2.1" stroke-linecap="butt"/>
<line x1="498.875" y1="710" x2="498.875" y2="717.5" stroke="#000" stroke-width="2.1" stroke-linecap="butt"/>
<line x1="492.375" y1="676.25" x2="505.375" y2="676.25" stroke="#000" stroke-width="2.1" stroke-linecap="round"/>
<line x1="492.375" y1="717.5" x2="505.375" y2="717.5" stroke="#000" stroke-width="2.1" stroke-linecap="round"/>
<rect x="486.8" y="686.25" width="24.15" height="23.75" fill="#c0c0c0" stroke="#000" stroke-width="2.1"/>
<line x1="486.8" y1="701.25" x2="510.95" y2="701.25" stroke="#000" stroke-width="2.1" stroke-linecap="butt"/>
<line x1="495.475" y1="695" x2="502.275" y2="695" stroke="#000" stroke-width="2.1" stroke-linecap="butt"/>
<line x1="498.875" y1="691.6" x2="498.875" y2="698.4" stroke="#000" stroke-width="2.1" stroke-linecap="butt"/>
<line x1="536.625" y1="634.5" x2="536.625" y2="637" stroke="#000" stroke-width="2.1" stroke-linecap="butt"/>
<line x1="536.625" y1="678.75" x2="536.625" y2="703.25" stroke="#000" stroke-width="2.1" stroke-linecap="butt"/>
<line x1="530.125" y1="634.5" x2="543.125" y2="634.5" stroke="#000" stroke-width="2.1" stroke-linecap="round"/>
<line x1="530.125" y1="703.25" x2="543.125" y2="703.25" stroke="#000" stroke-width="2.1" stroke-linecap="round"/>
<rect x="524.8" y="637" width="23.65" height="41.75" fill="#c0c0c0" stroke="#000" stroke-width="2.1"/>
<line x1="524.8" y1="646.25" x2="548.45" y2="646.25" stroke="#000" stroke-width="2.1" stroke-linecap="butt"/>
<line x1="533.225" y1="648" x2="540.025" y2="648" stroke="#000" stroke-width="2.1" stroke-linecap="butt"/>
<line x1="536.625" y1="644.6" x2="536.625" y2="651.4" stroke="#000" stroke-width="2.1" stroke-linecap="butt"/>
<line x1="574.125" y1="737.5" x2="574.125" y2="769.25" stroke="#000" stroke-width="2.1" stroke-linecap="butt"/>
<line x1="567.625" y1="737.5" x2="580.625" y2="737.5" stroke="#000" stroke-width="2.1" stroke-linecap="round"/>
<line x1="567.625" y1="769.25" x2="580.625" y2="769.25" stroke="#000" stroke-width="2.1" stroke-linecap="round"/>
<line x1="560.75" y1="748.75" x2="587.5" y2="748.75" stroke="#000" stroke-width="2.1" stroke-linecap="butt"/>
<rect x="246.125" y="616.025" width="24.75" height="12.65" fill="#fff" stroke="#000" stroke-width="2.25"/>
<rect x="246.125" y="649.025" width="24.75" height="12.65" fill="#c0c0c0" stroke="#000" stroke-width="2.25"/>
<text x="284.5" y="628.9" font-size="18.7" text-anchor="start" >D9</text>
<text x="284.5" y="661.4" font-size="18.7" text-anchor="start" >Endpoint</text>
<text x="322.3" y="592.8" font-size="22.5" text-anchor="start" >ISG15</text>
<text x="23.9" y="769.6" font-size="22" text-anchor="middle" transform="rotate(-90 23.9 769.6)">mRNA relative quantification (AU)</text>
<text x="284.6" y="698.4" font-size="22.6" text-anchor="middle" >*</text>
<text x="0" y="0" font-size="19.2" text-anchor="middle" transform="translate(498.85 670.4) scale(1 1.12)">#</text>
<text x="0" y="0" font-size="19.2" text-anchor="middle" transform="translate(536.6 624.5) scale(1 1.12)">#</text>
<text x="0" y="0" font-size="43" transform="translate(821.5 551.4) scale(1 1.045)">D</text>
<line x1="897.5" y1="639.75" x2="897.5" y2="917.65" stroke="#000" stroke-width="2.5" stroke-linecap="butt"/>
<line x1="896.25" y1="916.4" x2="1405.5" y2="916.4" stroke="#000" stroke-width="2.5" stroke-linecap="butt"/>
<line x1="893" y1="640.5" x2="897.5" y2="640.5" stroke="#000" stroke-width="1.5" stroke-linecap="butt"/>
<text x="888.6" y="647.43" font-size="19.8" text-anchor="end" >10000</text>
<line x1="893" y1="686.483" x2="897.5" y2="686.483" stroke="#000" stroke-width="1.5" stroke-linecap="butt"/>
<text x="888.6" y="693.413" font-size="19.8" text-anchor="end" >1000</text>
<line x1="893" y1="732.467" x2="897.5" y2="732.467" stroke="#000" stroke-width="1.5" stroke-linecap="butt"/>
<text x="888.6" y="739.397" font-size="19.8" text-anchor="end" >100</text>
<line x1="893" y1="778.45" x2="897.5" y2="778.45" stroke="#000" stroke-width="1.5" stroke-linecap="butt"/>
<text x="888.6" y="785.38" font-size="19.8" text-anchor="end" >10</text>
<line x1="893" y1="824.433" x2="897.5" y2="824.433" stroke="#000" stroke-width="1.5" stroke-linecap="butt"/>
<text x="888.6" y="831.363" font-size="19.8" text-anchor="end" >1</text>
<line x1="893" y1="870.417" x2="897.5" y2="870.417" stroke="#000" stroke-width="1.5" stroke-linecap="butt"/>
<text x="888.6" y="877.347" font-size="19.8" text-anchor="end" >0.1</text>
<line x1="893" y1="916.4" x2="897.5" y2="916.4" stroke="#000" stroke-width="1.5" stroke-linecap="butt"/>
<text x="888.6" y="923.33" font-size="19.8" text-anchor="end" >0.01</text>
<line x1="894.7" y1="672.641" x2="897.5" y2="672.641" stroke="#000" stroke-width="1.275" stroke-linecap="butt"/>
<line x1="894.7" y1="664.544" x2="897.5" y2="664.544" stroke="#000" stroke-width="1.275" stroke-linecap="butt"/>
<line x1="894.7" y1="658.799" x2="897.5" y2="658.799" stroke="#000" stroke-width="1.275" stroke-linecap="butt"/>
<line x1="894.7" y1="654.342" x2="897.5" y2="654.342" stroke="#000" stroke-width="1.275" stroke-linecap="butt"/>
<line x1="894.7" y1="650.701" x2="897.5" y2="650.701" stroke="#000" stroke-width="1.275" stroke-linecap="butt"/>
<line x1="894.7" y1="647.623" x2="897.5" y2="647.623" stroke="#000" stroke-width="1.275" stroke-linecap="butt"/>
<line x1="894.7" y1="644.956" x2="897.5" y2="644.956" stroke="#000" stroke-width="1.275" stroke-linecap="butt"/>
<line x1="894.7" y1="642.604" x2="897.5" y2="642.604" stroke="#000" stroke-width="1.275" stroke-linecap="butt"/>
<line x1="894.7" y1="718.624" x2="897.5" y2="718.624" stroke="#000" stroke-width="1.275" stroke-linecap="butt"/>
<line x1="894.7" y1="710.527" x2="897.5" y2="710.527" stroke="#000" stroke-width="1.275" stroke-linecap="butt"/>
<line x1="894.7" y1="704.782" x2="897.5" y2="704.782" stroke="#000" stroke-width="1.275" stroke-linecap="butt"/>
<line x1="894.7" y1="700.326" x2="897.5" y2="700.326" stroke="#000" stroke-width="1.275" stroke-linecap="butt"/>
<line x1="894.7" y1="696.685" x2="897.5" y2="696.685" stroke="#000" stroke-width="1.275" stroke-linecap="butt"/>
<line x1="894.7" y1="693.606" x2="897.5" y2="693.606" stroke="#000" stroke-width="1.275" stroke-linecap="butt"/>
<line x1="894.7" y1="690.94" x2="897.5" y2="690.94" stroke="#000" stroke-width="1.275" stroke-linecap="butt"/>
<line x1="894.7" y1="688.587" x2="897.5" y2="688.587" stroke="#000" stroke-width="1.275" stroke-linecap="butt"/>
<line x1="894.7" y1="764.608" x2="897.5" y2="764.608" stroke="#000" stroke-width="1.275" stroke-linecap="butt"/>
<line x1="894.7" y1="756.51" x2="897.5" y2="756.51" stroke="#000" stroke-width="1.275" stroke-linecap="butt"/>
<line x1="894.7" y1="750.765" x2="897.5" y2="750.765" stroke="#000" stroke-width="1.275" stroke-linecap="butt"/>
<line x1="894.7" y1="746.309" x2="897.5" y2="746.309" stroke="#000" stroke-width="1.275" stroke-linecap="butt"/>
<line x1="894.7" y1="742.668" x2="897.5" y2="742.668" stroke="#000" stroke-width="1.275" stroke-linecap="butt"/>
<line x1="894.7" y1="739.59" x2="897.5" y2="739.59" stroke="#000" stroke-width="1.275" stroke-linecap="butt"/>
<line x1="894.7" y1="736.923" x2="897.5" y2="736.923" stroke="#000" stroke-width="1.275" stroke-linecap="butt"/>
<line x1="894.7" y1="734.571" x2="897.5" y2="734.571" stroke="#000" stroke-width="1.275" stroke-linecap="butt"/>
<line x1="894.7" y1="810.591" x2="897.5" y2="810.591" stroke="#000" stroke-width="1.275" stroke-linecap="butt"/>
<line x1="894.7" y1="802.494" x2="897.5" y2="802.494" stroke="#000" stroke-width="1.275" stroke-linecap="butt"/>
<line x1="894.7" y1="796.749" x2="897.5" y2="796.749" stroke="#000" stroke-width="1.275" stroke-linecap="butt"/>
<line x1="894.7" y1="792.292" x2="897.5" y2="792.292" stroke="#000" stroke-width="1.275" stroke-linecap="butt"/>
<line x1="894.7" y1="788.651" x2="897.5" y2="788.651" stroke="#000" stroke-width="1.275" stroke-linecap="butt"/>
<line x1="894.7" y1="785.573" x2="897.5" y2="785.573" stroke="#000" stroke-width="1.275" stroke-linecap="butt"/>
<line x1="894.7" y1="782.906" x2="897.5" y2="782.906" stroke="#000" stroke-width="1.275" stroke-linecap="butt"/>
<line x1="894.7" y1="780.554" x2="897.5" y2="780.554" stroke="#000" stroke-width="1.275" stroke-linecap="butt"/>
<line x1="894.7" y1="856.574" x2="897.5" y2="856.574" stroke="#000" stroke-width="1.275" stroke-linecap="butt"/>
<line x1="894.7" y1="848.477" x2="897.5" y2="848.477" stroke="#000" stroke-width="1.275" stroke-linecap="butt"/>
<line x1="894.7" y1="842.732" x2="897.5" y2="842.732" stroke="#000" stroke-width="1.275" stroke-linecap="butt"/>
<line x1="894.7" y1="838.276" x2="897.5" y2="838.276" stroke="#000" stroke-width="1.275" stroke-linecap="butt"/>
<line x1="894.7" y1="834.635" x2="897.5" y2="834.635" stroke="#000" stroke-width="1.275" stroke-linecap="butt"/>
<line x1="894.7" y1="831.556" x2="897.5" y2="831.556" stroke="#000" stroke-width="1.275" stroke-linecap="butt"/>
<line x1="894.7" y1="828.89" x2="897.5" y2="828.89" stroke="#000" stroke-width="1.275" stroke-linecap="butt"/>
<line x1="894.7" y1="826.537" x2="897.5" y2="826.537" stroke="#000" stroke-width="1.275" stroke-linecap="butt"/>
<line x1="894.7" y1="902.558" x2="897.5" y2="902.558" stroke="#000" stroke-width="1.275" stroke-linecap="butt"/>
<line x1="894.7" y1="894.46" x2="897.5" y2="894.46" stroke="#000" stroke-width="1.275" stroke-linecap="butt"/>
<line x1="894.7" y1="888.715" x2="897.5" y2="888.715" stroke="#000" stroke-width="1.275" stroke-linecap="butt"/>
<line x1="894.7" y1="884.259" x2="897.5" y2="884.259" stroke="#000" stroke-width="1.275" stroke-linecap="butt"/>
<line x1="894.7" y1="880.618" x2="897.5" y2="880.618" stroke="#000" stroke-width="1.275" stroke-linecap="butt"/>
<line x1="894.7" y1="877.54" x2="897.5" y2="877.54" stroke="#000" stroke-width="1.275" stroke-linecap="butt"/>
<line x1="894.7" y1="874.873" x2="897.5" y2="874.873" stroke="#000" stroke-width="1.275" stroke-linecap="butt"/>
<line x1="894.7" y1="872.521" x2="897.5" y2="872.521" stroke="#000" stroke-width="1.275" stroke-linecap="butt"/>
<line x1="928" y1="916.4" x2="928" y2="920.4" stroke="#000" stroke-width="1.5" stroke-linecap="butt"/>
<line x1="966.75" y1="916.4" x2="966.75" y2="920.4" stroke="#000" stroke-width="1.5" stroke-linecap="butt"/>
<line x1="1005" y1="916.4" x2="1005" y2="920.4" stroke="#000" stroke-width="1.5" stroke-linecap="butt"/>
<line x1="1043.25" y1="916.4" x2="1043.25" y2="920.4" stroke="#000" stroke-width="1.5" stroke-linecap="butt"/>
<line x1="1081.25" y1="916.4" x2="1081.25" y2="920.4" stroke="#000" stroke-width="1.5" stroke-linecap="butt"/>
<line x1="1118.75" y1="916.4" x2="1118.75" y2="920.4" stroke="#000" stroke-width="1.5" stroke-linecap="butt"/>
<line x1="1182.5" y1="916.4" x2="1182.5" y2="920.4" stroke="#000" stroke-width="1.5" stroke-linecap="butt"/>
<line x1="1221.25" y1="916.4" x2="1221.25" y2="920.4" stroke="#000" stroke-width="1.5" stroke-linecap="butt"/>
<line x1="1259.25" y1="916.4" x2="1259.25" y2="920.4" stroke="#000" stroke-width="1.5" stroke-linecap="butt"/>
<line x1="1297" y1="916.4" x2="1297" y2="920.4" stroke="#000" stroke-width="1.5" stroke-linecap="butt"/>
<line x1="1335" y1="916.4" x2="1335" y2="920.4" stroke="#000" stroke-width="1.5" stroke-linecap="butt"/>
<line x1="1373.25" y1="916.4" x2="1373.25" y2="920.4" stroke="#000" stroke-width="1.5" stroke-linecap="butt"/>
<text x="934.15" y="941.1" font-size="23.45" text-anchor="end" transform="rotate(-45 934.15 941.1)">Mock</text>
<text x="972.9" y="941.1" font-size="23.45" text-anchor="end" transform="rotate(-45 972.9 941.1)">Tha</text>
<text x="1011.15" y="941.1" font-size="23.45" text-anchor="end" transform="rotate(-45 1011.15 941.1)">Th2P</text>
<text x="1049.4" y="941.1" font-size="23.45" text-anchor="end" transform="rotate(-45 1049.4 941.1)">Th4M&#160;</text>
<text x="1087.4" y="941.1" font-size="23.45" text-anchor="end" transform="rotate(-45 1087.4 941.1)">Th2P-4M&#160;</text>
<text x="1124.9" y="941.1" font-size="23.45" text-anchor="end" transform="rotate(-45 1124.9 941.1)">Th2P-4M survivors</text>
<text x="1188.65" y="941.1" font-size="23.45" text-anchor="end" transform="rotate(-45 1188.65 941.1)">Mock</text>
<text x="1227.4" y="941.1" font-size="23.45" text-anchor="end" transform="rotate(-45 1227.4 941.1)">Tha</text>
<text x="1265.4" y="941.1" font-size="23.45" text-anchor="end" transform="rotate(-45 1265.4 941.1)">Th2P</text>
<text x="1303.15" y="941.1" font-size="23.45" text-anchor="end" transform="rotate(-45 1303.15 941.1)">Th4M&#160;</text>
<text x="1341.15" y="941.1" font-size="23.45" text-anchor="end" transform="rotate(-45 1341.15 941.1)">Th2P-4M&#160;</text>
<text x="1379.4" y="941.1" font-size="23.45" text-anchor="end" transform="rotate(-45 1379.4 941.1)">Th2P-4M survivors</text>
<line x1="929.125" y1="822.5" x2="929.125" y2="824.5" stroke="#000" stroke-width="2.1" stroke-linecap="butt"/>
<line x1="929.125" y1="840" x2="929.125" y2="846.25" stroke="#000" stroke-width="2.1" stroke-linecap="butt"/>
<line x1="922.625" y1="822.5" x2="935.625" y2="822.5" stroke="#000" stroke-width="2.1" stroke-linecap="round"/>
<line x1="922.625" y1="846.25" x2="935.625" y2="846.25" stroke="#000" stroke-width="2.1" stroke-linecap="round"/>
<rect x="917.3" y="824.5" width="23.65" height="15.5" fill="#fff" stroke="#000" stroke-width="2.1"/>
<line x1="917.3" y1="832" x2="940.95" y2="832" stroke="#000" stroke-width="2.1" stroke-linecap="butt"/>
<line x1="925.725" y1="832" x2="932.525" y2="832" stroke="#000" stroke-width="2.1" stroke-linecap="butt"/>
<line x1="929.125" y1="828.6" x2="929.125" y2="835.4" stroke="#000" stroke-width="2.1" stroke-linecap="butt"/>
<line x1="967.125" y1="817" x2="967.125" y2="820.5" stroke="#000" stroke-width="2.1" stroke-linecap="butt"/>
<line x1="967.125" y1="894.25" x2="967.125" y2="898.25" stroke="#000" stroke-width="2.1" stroke-linecap="butt"/>
<line x1="960.625" y1="817" x2="973.625" y2="817" stroke="#000" stroke-width="2.1" stroke-linecap="round"/>
<line x1="960.625" y1="898.25" x2="973.625" y2="898.25" stroke="#000" stroke-width="2.1" stroke-linecap="round"/>
<rect x="955.3" y="820.5" width="23.65" height="73.75" fill="#fff" stroke="#000" stroke-width="2.1"/>
<line x1="955.3" y1="826.25" x2="978.95" y2="826.25" stroke="#000" stroke-width="2.1" stroke-linecap="butt"/>
<line x1="963.725" y1="832" x2="970.525" y2="832" stroke="#000" stroke-width="2.1" stroke-linecap="butt"/>
<line x1="967.125" y1="828.6" x2="967.125" y2="835.4" stroke="#000" stroke-width="2.1" stroke-linecap="butt"/>
<line x1="1005.375" y1="776.25" x2="1005.375" y2="779.5" stroke="#000" stroke-width="2.1" stroke-linecap="butt"/>
<line x1="1005.375" y1="822" x2="1005.375" y2="823.25" stroke="#000" stroke-width="2.1" stroke-linecap="butt"/>
<line x1="998.875" y1="776.25" x2="1011.875" y2="776.25" stroke="#000" stroke-width="2.1" stroke-linecap="round"/>
<line x1="998.875" y1="823.25" x2="1011.875" y2="823.25" stroke="#000" stroke-width="2.1" stroke-linecap="round"/>
<rect x="993.55" y="779.5" width="23.65" height="42.5" fill="#fff" stroke="#000" stroke-width="2.1"/>
<line x1="993.55" y1="793.25" x2="1017.2" y2="793.25" stroke="#000" stroke-width="2.1" stroke-linecap="butt"/>
<line x1="1001.975" y1="791.25" x2="1008.775" y2="791.25" stroke="#000" stroke-width="2.1" stroke-linecap="butt"/>
<line x1="1005.375" y1="787.85" x2="1005.375" y2="794.65" stroke="#000" stroke-width="2.1" stroke-linecap="butt"/>
<line x1="1043.75" y1="766.25" x2="1043.75" y2="775.75" stroke="#000" stroke-width="2.1" stroke-linecap="butt"/>
<line x1="1043.75" y1="806.75" x2="1043.75" y2="813.75" stroke="#000" stroke-width="2.1" stroke-linecap="butt"/>
<line x1="1037.25" y1="766.25" x2="1050.25" y2="766.25" stroke="#000" stroke-width="2.1" stroke-linecap="round"/>
<line x1="1037.25" y1="813.75" x2="1050.25" y2="813.75" stroke="#000" stroke-width="2.1" stroke-linecap="round"/>
<rect x="1031.8" y="775.75" width="23.9" height="31" fill="#fff" stroke="#000" stroke-width="2.1"/>
<line x1="1031.8" y1="801.25" x2="1055.7" y2="801.25" stroke="#000" stroke-width="2.1" stroke-linecap="butt"/>
<line x1="1040.35" y1="787.5" x2="1047.15" y2="787.5" stroke="#000" stroke-width="2.1" stroke-linecap="butt"/>
<line x1="1043.75" y1="784.1" x2="1043.75" y2="790.9" stroke="#000" stroke-width="2.1" stroke-linecap="butt"/>
<line x1="1081.875" y1="744.25" x2="1081.875" y2="746.75" stroke="#000" stroke-width="2.1" stroke-linecap="butt"/>
<line x1="1081.875" y1="768" x2="1081.875" y2="777.5" stroke="#000" stroke-width="2.1" stroke-linecap="butt"/>
<line x1="1075.375" y1="744.25" x2="1088.375" y2="744.25" stroke="#000" stroke-width="2.1" stroke-linecap="round"/>
<line x1="1075.375" y1="777.5" x2="1088.375" y2="777.5" stroke="#000" stroke-width="2.1" stroke-linecap="round"/>
<rect x="1069.8" y="746.75" width="24.15" height="21.25" fill="#fff" stroke="#000" stroke-width="2.1"/>
<line x1="1069.8" y1="762.5" x2="1093.95" y2="762.5" stroke="#000" stroke-width="2.1" stroke-linecap="butt"/>
<line x1="1078.475" y1="755.75" x2="1085.275" y2="755.75" stroke="#000" stroke-width="2.1" stroke-linecap="butt"/>
<line x1="1081.875" y1="752.35" x2="1081.875" y2="759.15" stroke="#000" stroke-width="2.1" stroke-linecap="butt"/>
<line x1="1182.875" y1="804.5" x2="1182.875" y2="813.25" stroke="#000" stroke-width="2.1" stroke-linecap="butt"/>
<line x1="1182.875" y1="830" x2="1182.875" y2="835.5" stroke="#000" stroke-width="2.1" stroke-linecap="butt"/>
<line x1="1176.375" y1="804.5" x2="1189.375" y2="804.5" stroke="#000" stroke-width="2.1" stroke-linecap="round"/>
<line x1="1176.375" y1="835.5" x2="1189.375" y2="835.5" stroke="#000" stroke-width="2.1" stroke-linecap="round"/>
<rect x="1170.55" y="813.25" width="24.65" height="16.75" fill="#c0c0c0" stroke="#000" stroke-width="2.1"/>
<line x1="1170.55" y1="822.5" x2="1195.2" y2="822.5" stroke="#000" stroke-width="2.1" stroke-linecap="butt"/>
<line x1="1179.475" y1="819.25" x2="1186.275" y2="819.25" stroke="#000" stroke-width="2.1" stroke-linecap="butt"/>
<line x1="1182.875" y1="815.85" x2="1182.875" y2="822.65" stroke="#000" stroke-width="2.1" stroke-linecap="butt"/>
<line x1="1220.875" y1="765.5" x2="1220.875" y2="767.5" stroke="#000" stroke-width="2.1" stroke-linecap="butt"/>
<line x1="1220.875" y1="793.75" x2="1220.875" y2="820.5" stroke="#000" stroke-width="2.1" stroke-linecap="butt"/>
<line x1="1214.375" y1="765.5" x2="1227.375" y2="765.5" stroke="#000" stroke-width="2.1" stroke-linecap="round"/>
<line x1="1214.375" y1="820.5" x2="1227.375" y2="820.5" stroke="#000" stroke-width="2.1" stroke-linecap="round"/>
<rect x="1208.55" y="767.5" width="24.65" height="26.25" fill="#c0c0c0" stroke="#000" stroke-width="2.1"/>
<line x1="1208.55" y1="773.75" x2="1233.2" y2="773.75" stroke="#000" stroke-width="2.1" stroke-linecap="butt"/>
<line x1="1217.475" y1="775.5" x2="1224.275" y2="775.5" stroke="#000" stroke-width="2.1" stroke-linecap="butt"/>
<line x1="1220.875" y1="772.1" x2="1220.875" y2="778.9" stroke="#000" stroke-width="2.1" stroke-linecap="butt"/>
<line x1="1258.875" y1="757" x2="1258.875" y2="760" stroke="#000" stroke-width="2.1" stroke-linecap="butt"/>
<line x1="1258.875" y1="777" x2="1258.875" y2="783" stroke="#000" stroke-width="2.1" stroke-linecap="butt"/>
<line x1="1252.375" y1="757" x2="1265.375" y2="757" stroke="#000" stroke-width="2.1" stroke-linecap="round"/>
<line x1="1252.375" y1="783" x2="1265.375" y2="783" stroke="#000" stroke-width="2.1" stroke-linecap="round"/>
<rect x="1246.8" y="760" width="24.15" height="17" fill="#c0c0c0" stroke="#000" stroke-width="2.1"/>
<line x1="1246.8" y1="773" x2="1270.95" y2="773" stroke="#000" stroke-width="2.1" stroke-linecap="butt"/>
<line x1="1255.475" y1="767" x2="1262.275" y2="767" stroke="#000" stroke-width="2.1" stroke-linecap="butt"/>
<line x1="1258.875" y1="763.6" x2="1258.875" y2="770.4" stroke="#000" stroke-width="2.1" stroke-linecap="butt"/>
<line x1="1297.375" y1="728.25" x2="1297.375" y2="732.5" stroke="#000" stroke-width="2.1" stroke-linecap="butt"/>
<line x1="1297.375" y1="766.25" x2="1297.375" y2="769.5" stroke="#000" stroke-width="2.1" stroke-linecap="butt"/>
<line x1="1290.875" y1="728.25" x2="1303.875" y2="728.25" stroke="#000" stroke-width="2.1" stroke-linecap="round"/>
<line x1="1290.875" y1="769.5" x2="1303.875" y2="769.5" stroke="#000" stroke-width="2.1" stroke-linecap="round"/>
<rect x="1285.3" y="732.5" width="24.15" height="33.75" fill="#c0c0c0" stroke="#000" stroke-width="2.1"/>
<line x1="1285.3" y1="743.75" x2="1309.45" y2="743.75" stroke="#000" stroke-width="2.1" stroke-linecap="butt"/>
<line x1="1293.975" y1="742.5" x2="1300.775" y2="742.5" stroke="#000" stroke-width="2.1" stroke-linecap="butt"/>
<line x1="1297.375" y1="739.1" x2="1297.375" y2="745.9" stroke="#000" stroke-width="2.1" stroke-linecap="butt"/>
<line x1="1335.125" y1="682.5" x2="1335.125" y2="685.5" stroke="#000" stroke-width="2.1" stroke-linecap="butt"/>
<line x1="1335.125" y1="713.75" x2="1335.125" y2="723.75" stroke="#000" stroke-width="2.1" stroke-linecap="butt"/>
<line x1="1328.625" y1="682.5" x2="1341.625" y2="682.5" stroke="#000" stroke-width="2.1" stroke-linecap="round"/>
<line x1="1328.625" y1="723.75" x2="1341.625" y2="723.75" stroke="#000" stroke-width="2.1" stroke-linecap="round"/>
<rect x="1323.05" y="685.5" width="24.15" height="28.25" fill="#c0c0c0" stroke="#000" stroke-width="2.1"/>
<line x1="1323.05" y1="695.75" x2="1347.2" y2="695.75" stroke="#000" stroke-width="2.1" stroke-linecap="butt"/>
<line x1="1331.725" y1="695.75" x2="1338.525" y2="695.75" stroke="#000" stroke-width="2.1" stroke-linecap="butt"/>
<line x1="1335.125" y1="692.35" x2="1335.125" y2="699.15" stroke="#000" stroke-width="2.1" stroke-linecap="butt"/>
<line x1="1373.5" y1="789.5" x2="1373.5" y2="797" stroke="#000" stroke-width="2.1" stroke-linecap="butt"/>
<line x1="1367" y1="789.5" x2="1380" y2="789.5" stroke="#000" stroke-width="2.1" stroke-linecap="round"/>
<line x1="1367" y1="797" x2="1380" y2="797" stroke="#000" stroke-width="2.1" stroke-linecap="round"/>
<line x1="1360" y1="793.25" x2="1387" y2="793.25" stroke="#000" stroke-width="2.1" stroke-linecap="butt"/>
<rect x="1042.1" y="634.5" width="25.5" height="13.7" fill="#fff" stroke="#000" stroke-width="2.4"/>
<rect x="1042.1" y="660.3" width="25.5" height="13.7" fill="#c0c0c0" stroke="#000" stroke-width="2.4"/>
<text x="1082.1" y="648.6" font-size="19.4" text-anchor="start" >D9</text>
<text x="1082.1" y="674.2" font-size="19.4" text-anchor="start" >Endpoint</text>
<text x="1128.6" y="602.8" font-size="23.4" text-anchor="start" >MxA</text>
<text x="798.9" y="776.35" font-size="22.8" text-anchor="middle" transform="rotate(-90 798.9 776.35)">mRNA relative quantification (AU)</text>
<text x="1081.25" y="740.8" font-size="22" text-anchor="middle" >*</text>
<text x="0" y="0" font-size="19.2" text-anchor="middle" transform="translate(1335.2 672.3) scale(1 1.12)">#</text>
<text x="0" y="0" font-size="43" transform="translate(9 1125.95) scale(1 1.045)">E</text>
<line x1="115.3" y1="1185.45" x2="115.3" y2="1509.45" stroke="#000" stroke-width="2.4" stroke-linecap="butt"/>
<line x1="114.1" y1="1508.25" x2="632.5" y2="1508.25" stroke="#000" stroke-width="2.4" stroke-linecap="butt"/>
<line x1="111.1" y1="1186.2" x2="115.3" y2="1186.2" stroke="#000" stroke-width="1.5" stroke-linecap="butt"/>
<text x="105.9" y="1193.235" font-size="20.1" text-anchor="end" >1000</text>
<line x1="111.1" y1="1250.61" x2="115.3" y2="1250.61" stroke="#000" stroke-width="1.5" stroke-linecap="butt"/>
<text x="105.9" y="1257.645" font-size="20.1" text-anchor="end" >100</text>
<line x1="111.1" y1="1315.02" x2="115.3" y2="1315.02" stroke="#000" stroke-width="1.5" stroke-linecap="butt"/>
<text x="105.9" y="1322.055" font-size="20.1" text-anchor="end" >10</text>
<line x1="111.1" y1="1379.43" x2="115.3" y2="1379.43" stroke="#000" stroke-width="1.5" stroke-linecap="butt"/>
<text x="105.9" y="1386.465" font-size="20.1" text-anchor="end" >1</text>
<line x1="111.1" y1="1443.84" x2="115.3" y2="1443.84" stroke="#000" stroke-width="1.5" stroke-linecap="butt"/>
<text x="105.9" y="1450.875" font-size="20.1" text-anchor="end" >0.1</text>
<line x1="111.1" y1="1508.25" x2="115.3" y2="1508.25" stroke="#000" stroke-width="1.5" stroke-linecap="butt"/>
<text x="105.9" y="1515.285" font-size="20.1" text-anchor="end" >0.01</text>
<line x1="112.5" y1="1231.221" x2="115.3" y2="1231.221" stroke="#000" stroke-width="1.275" stroke-linecap="butt"/>
<line x1="112.5" y1="1219.879" x2="115.3" y2="1219.879" stroke="#000" stroke-width="1.275" stroke-linecap="butt"/>
<line x1="112.5" y1="1211.831" x2="115.3" y2="1211.831" stroke="#000" stroke-width="1.275" stroke-linecap="butt"/>
<line x1="112.5" y1="1205.589" x2="115.3" y2="1205.589" stroke="#000" stroke-width="1.275" stroke-linecap="butt"/>
<line x1="112.5" y1="1200.489" x2="115.3" y2="1200.489" stroke="#000" stroke-width="1.275" stroke-linecap="butt"/>
<line x1="112.5" y1="1196.177" x2="115.3" y2="1196.177" stroke="#000" stroke-width="1.275" stroke-linecap="butt"/>
<line x1="112.5" y1="1192.442" x2="115.3" y2="1192.442" stroke="#000" stroke-width="1.275" stroke-linecap="butt"/>
<line x1="112.5" y1="1189.147" x2="115.3" y2="1189.147" stroke="#000" stroke-width="1.275" stroke-linecap="butt"/>
<line x1="112.5" y1="1295.631" x2="115.3" y2="1295.631" stroke="#000" stroke-width="1.275" stroke-linecap="butt"/>
<line x1="112.5" y1="1284.289" x2="115.3" y2="1284.289" stroke="#000" stroke-width="1.275" stroke-linecap="butt"/>
<line x1="112.5" y1="1276.241" x2="115.3" y2="1276.241" stroke="#000" stroke-width="1.275" stroke-linecap="butt"/>
<line x1="112.5" y1="1269.999" x2="115.3" y2="1269.999" stroke="#000" stroke-width="1.275" stroke-linecap="butt"/>
<line x1="112.5" y1="1264.899" x2="115.3" y2="1264.899" stroke="#000" stroke-width="1.275" stroke-linecap="butt"/>
<line x1="112.5" y1="1260.587" x2="115.3" y2="1260.587" stroke="#000" stroke-width="1.275" stroke-linecap="butt"/>
<line x1="112.5" y1="1256.852" x2="115.3" y2="1256.852" stroke="#000" stroke-width="1.275" stroke-linecap="butt"/>
<line x1="112.5" y1="1253.557" x2="115.3" y2="1253.557" stroke="#000" stroke-width="1.275" stroke-linecap="butt"/>
<line x1="112.5" y1="1360.041" x2="115.3" y2="1360.041" stroke="#000" stroke-width="1.275" stroke-linecap="butt"/>
<line x1="112.5" y1="1348.699" x2="115.3" y2="1348.699" stroke="#000" stroke-width="1.275" stroke-linecap="butt"/>
<line x1="112.5" y1="1340.651" x2="115.3" y2="1340.651" stroke="#000" stroke-width="1.275" stroke-linecap="butt"/>
<line x1="112.5" y1="1334.409" x2="115.3" y2="1334.409" stroke="#000" stroke-width="1.275" stroke-linecap="butt"/>
<line x1="112.5" y1="1329.309" x2="115.3" y2="1329.309" stroke="#000" stroke-width="1.275" stroke-linecap="butt"/>
<line x1="112.5" y1="1324.997" x2="115.3" y2="1324.997" stroke="#000" stroke-width="1.275" stroke-linecap="butt"/>
<line x1="112.5" y1="1321.262" x2="115.3" y2="1321.262" stroke="#000" stroke-width="1.275" stroke-linecap="butt"/>
<line x1="112.5" y1="1317.967" x2="115.3" y2="1317.967" stroke="#000" stroke-width="1.275" stroke-linecap="butt"/>
<line x1="112.5" y1="1424.451" x2="115.3" y2="1424.451" stroke="#000" stroke-width="1.275" stroke-linecap="butt"/>
<line x1="112.5" y1="1413.109" x2="115.3" y2="1413.109" stroke="#000" stroke-width="1.275" stroke-linecap="butt"/>
<line x1="112.5" y1="1405.061" x2="115.3" y2="1405.061" stroke="#000" stroke-width="1.275" stroke-linecap="butt"/>
<line x1="112.5" y1="1398.819" x2="115.3" y2="1398.819" stroke="#000" stroke-width="1.275" stroke-linecap="butt"/>
<line x1="112.5" y1="1393.719" x2="115.3" y2="1393.719" stroke="#000" stroke-width="1.275" stroke-linecap="butt"/>
<line x1="112.5" y1="1389.407" x2="115.3" y2="1389.407" stroke="#000" stroke-width="1.275" stroke-linecap="butt"/>
<line x1="112.5" y1="1385.672" x2="115.3" y2="1385.672" stroke="#000" stroke-width="1.275" stroke-linecap="butt"/>
<line x1="112.5" y1="1382.377" x2="115.3" y2="1382.377" stroke="#000" stroke-width="1.275" stroke-linecap="butt"/>
<line x1="112.5" y1="1488.861" x2="115.3" y2="1488.861" stroke="#000" stroke-width="1.275" stroke-linecap="butt"/>
<line x1="112.5" y1="1477.519" x2="115.3" y2="1477.519" stroke="#000" stroke-width="1.275" stroke-linecap="butt"/>
<line x1="112.5" y1="1469.471" x2="115.3" y2="1469.471" stroke="#000" stroke-width="1.275" stroke-linecap="butt"/>
<line x1="112.5" y1="1463.229" x2="115.3" y2="1463.229" stroke="#000" stroke-width="1.275" stroke-linecap="butt"/>
<line x1="112.5" y1="1458.129" x2="115.3" y2="1458.129" stroke="#000" stroke-width="1.275" stroke-linecap="butt"/>
<line x1="112.5" y1="1453.817" x2="115.3" y2="1453.817" stroke="#000" stroke-width="1.275" stroke-linecap="butt"/>
<line x1="112.5" y1="1450.082" x2="115.3" y2="1450.082" stroke="#000" stroke-width="1.275" stroke-linecap="butt"/>
<line x1="112.5" y1="1446.787" x2="115.3" y2="1446.787" stroke="#000" stroke-width="1.275" stroke-linecap="butt"/>
<line x1="147.5" y1="1508.25" x2="147.5" y2="1512.25" stroke="#000" stroke-width="1.5" stroke-linecap="butt"/>
<line x1="186.25" y1="1508.25" x2="186.25" y2="1512.25" stroke="#000" stroke-width="1.5" stroke-linecap="butt"/>
<line x1="225" y1="1508.25" x2="225" y2="1512.25" stroke="#000" stroke-width="1.5" stroke-linecap="butt"/>
<line x1="263.75" y1="1508.25" x2="263.75" y2="1512.25" stroke="#000" stroke-width="1.5" stroke-linecap="butt"/>
<line x1="302.5" y1="1508.25" x2="302.5" y2="1512.25" stroke="#000" stroke-width="1.5" stroke-linecap="butt"/>
<line x1="341.25" y1="1508.25" x2="341.25" y2="1512.25" stroke="#000" stroke-width="1.5" stroke-linecap="butt"/>
<line x1="406.25" y1="1508.25" x2="406.25" y2="1512.25" stroke="#000" stroke-width="1.5" stroke-linecap="butt"/>
<line x1="445" y1="1508.25" x2="445" y2="1512.25" stroke="#000" stroke-width="1.5" stroke-linecap="butt"/>
<line x1="483.75" y1="1508.25" x2="483.75" y2="1512.25" stroke="#000" stroke-width="1.5" stroke-linecap="butt"/>
<line x1="522.5" y1="1508.25" x2="522.5" y2="1512.25" stroke="#000" stroke-width="1.5" stroke-linecap="butt"/>
<line x1="561.75" y1="1508.25" x2="561.75" y2="1512.25" stroke="#000" stroke-width="1.5" stroke-linecap="butt"/>
<line x1="600.5" y1="1508.25" x2="600.5" y2="1512.25" stroke="#000" stroke-width="1.5" stroke-linecap="butt"/>
<text x="153.05" y="1532.95" font-size="24" text-anchor="end" transform="rotate(-45 153.05 1532.95)">Mock</text>
<text x="191.8" y="1532.95" font-size="24" text-anchor="end" transform="rotate(-45 191.8 1532.95)">Tha</text>
<text x="230.55" y="1532.95" font-size="24" text-anchor="end" transform="rotate(-45 230.55 1532.95)">Th2P</text>
<text x="269.3" y="1532.95" font-size="24" text-anchor="end" transform="rotate(-45 269.3 1532.95)">Th4M&#160;</text>
<text x="308.05" y="1532.95" font-size="24" text-anchor="end" transform="rotate(-45 308.05 1532.95)">Th2P-4M&#160;</text>
<text x="346.8" y="1532.95" font-size="24" text-anchor="end" transform="rotate(-45 346.8 1532.95)">Th2P-4M survivors</text>
<text x="411.8" y="1532.95" font-size="24" text-anchor="end" transform="rotate(-45 411.8 1532.95)">Mock</text>
<text x="450.55" y="1532.95" font-size="24" text-anchor="end" transform="rotate(-45 450.55 1532.95)">Tha</text>
<text x="489.3" y="1532.95" font-size="24" text-anchor="end" transform="rotate(-45 489.3 1532.95)">Th2P</text>
<text x="528.05" y="1532.95" font-size="24" text-anchor="end" transform="rotate(-45 528.05 1532.95)">Th4M&#160;</text>
<text x="567.3" y="1532.95" font-size="24" text-anchor="end" transform="rotate(-45 567.3 1532.95)">Th2P-4M&#160;</text>
<text x="606.05" y="1532.95" font-size="24" text-anchor="end" transform="rotate(-45 606.05 1532.95)">Th2P-4M survivors</text>
<line x1="147.25" y1="1367" x2="147.25" y2="1371.75" stroke="#000" stroke-width="2.1" stroke-linecap="butt"/>
<line x1="147.25" y1="1391.25" x2="147.25" y2="1395" stroke="#000" stroke-width="2.1" stroke-linecap="butt"/>
<line x1="140.75" y1="1367" x2="153.75" y2="1367" stroke="#000" stroke-width="2.1" stroke-linecap="round"/>
<line x1="140.75" y1="1395" x2="153.75" y2="1395" stroke="#000" stroke-width="2.1" stroke-linecap="round"/>
<rect x="134.8" y="1371.75" width="24.9" height="19.5" fill="#fff" stroke="#000" stroke-width="2.1"/>
<line x1="134.8" y1="1380" x2="159.7" y2="1380" stroke="#000" stroke-width="2.1" stroke-linecap="butt"/>
<line x1="143.85" y1="1380.5" x2="150.65" y2="1380.5" stroke="#000" stroke-width="2.1" stroke-linecap="butt"/>
<line x1="147.25" y1="1377.1" x2="147.25" y2="1383.9" stroke="#000" stroke-width="2.1" stroke-linecap="butt"/>
<line x1="186.25" y1="1367" x2="186.25" y2="1368" stroke="#000" stroke-width="2.1" stroke-linecap="butt"/>
<line x1="186.25" y1="1376.25" x2="186.25" y2="1380" stroke="#000" stroke-width="2.1" stroke-linecap="butt"/>
<line x1="179.75" y1="1367" x2="192.75" y2="1367" stroke="#000" stroke-width="2.1" stroke-linecap="round"/>
<line x1="179.75" y1="1380" x2="192.75" y2="1380" stroke="#000" stroke-width="2.1" stroke-linecap="round"/>
<rect x="173.55" y="1368" width="25.4" height="8.25" fill="#fff" stroke="#000" stroke-width="2.1"/>
<line x1="173.55" y1="1372.5" x2="198.95" y2="1372.5" stroke="#000" stroke-width="2.1" stroke-linecap="butt"/>
<line x1="182.85" y1="1372" x2="189.65" y2="1372" stroke="#000" stroke-width="2.1" stroke-linecap="butt"/>
<line x1="186.25" y1="1368.6" x2="186.25" y2="1375.4" stroke="#000" stroke-width="2.1" stroke-linecap="butt"/>
<line x1="225" y1="1357.5" x2="225" y2="1360" stroke="#000" stroke-width="2.1" stroke-linecap="butt"/>
<line x1="225" y1="1371.75" x2="225" y2="1375.75" stroke="#000" stroke-width="2.1" stroke-linecap="butt"/>
<line x1="218.5" y1="1357.5" x2="231.5" y2="1357.5" stroke="#000" stroke-width="2.1" stroke-linecap="round"/>
<line x1="218.5" y1="1375.75" x2="231.5" y2="1375.75" stroke="#000" stroke-width="2.1" stroke-linecap="round"/>
<rect x="212.3" y="1360" width="25.4" height="11.75" fill="#fff" stroke="#000" stroke-width="2.1"/>
<line x1="212.3" y1="1363.25" x2="237.7" y2="1363.25" stroke="#000" stroke-width="2.1" stroke-linecap="butt"/>
<line x1="221.6" y1="1363.25" x2="228.4" y2="1363.25" stroke="#000" stroke-width="2.1" stroke-linecap="butt"/>
<line x1="225" y1="1359.85" x2="225" y2="1366.65" stroke="#000" stroke-width="2.1" stroke-linecap="butt"/>
<line x1="264" y1="1343.75" x2="264" y2="1350.5" stroke="#000" stroke-width="2.1" stroke-linecap="butt"/>
<line x1="264" y1="1378" x2="264" y2="1384.25" stroke="#000" stroke-width="2.1" stroke-linecap="butt"/>
<line x1="257.5" y1="1343.75" x2="270.5" y2="1343.75" stroke="#000" stroke-width="2.1" stroke-linecap="round"/>
<line x1="257.5" y1="1384.25" x2="270.5" y2="1384.25" stroke="#000" stroke-width="2.1" stroke-linecap="round"/>
<rect x="251.55" y="1350.5" width="24.9" height="27.5" fill="#fff" stroke="#000" stroke-width="2.1"/>
<line x1="251.55" y1="1365.5" x2="276.45" y2="1365.5" stroke="#000" stroke-width="2.1" stroke-linecap="butt"/>
<line x1="260.6" y1="1361.25" x2="267.4" y2="1361.25" stroke="#000" stroke-width="2.1" stroke-linecap="butt"/>
<line x1="264" y1="1357.85" x2="264" y2="1364.65" stroke="#000" stroke-width="2.1" stroke-linecap="butt"/>
<line x1="303.25" y1="1314.5" x2="303.25" y2="1317.5" stroke="#000" stroke-width="2.1" stroke-linecap="butt"/>
<line x1="303.25" y1="1338.75" x2="303.25" y2="1355.5" stroke="#000" stroke-width="2.1" stroke-linecap="butt"/>
<line x1="296.75" y1="1314.5" x2="309.75" y2="1314.5" stroke="#000" stroke-width="2.1" stroke-linecap="round"/>
<line x1="296.75" y1="1355.5" x2="309.75" y2="1355.5" stroke="#000" stroke-width="2.1" stroke-linecap="round"/>
<rect x="290.55" y="1317.5" width="25.4" height="21.25" fill="#fff" stroke="#000" stroke-width="2.1"/>
<line x1="290.55" y1="1322.5" x2="315.95" y2="1322.5" stroke="#000" stroke-width="2.1" stroke-linecap="butt"/>
<line x1="299.85" y1="1326.25" x2="306.65" y2="1326.25" stroke="#000" stroke-width="2.1" stroke-linecap="butt"/>
<line x1="303.25" y1="1322.85" x2="303.25" y2="1329.65" stroke="#000" stroke-width="2.1" stroke-linecap="butt"/>
<line x1="406.5" y1="1353.75" x2="406.5" y2="1364.25" stroke="#000" stroke-width="2.1" stroke-linecap="butt"/>
<line x1="406.5" y1="1389.5" x2="406.5" y2="1397" stroke="#000" stroke-width="2.1" stroke-linecap="butt"/>
<line x1="400" y1="1353.75" x2="413" y2="1353.75" stroke="#000" stroke-width="2.1" stroke-linecap="round"/>
<line x1="400" y1="1397" x2="413" y2="1397" stroke="#000" stroke-width="2.1" stroke-linecap="round"/>
<rect x="394.05" y="1364.25" width="24.9" height="25.25" fill="#c0c0c0" stroke="#000" stroke-width="2.1"/>
<line x1="394.05" y1="1378" x2="418.95" y2="1378" stroke="#000" stroke-width="2.1" stroke-linecap="butt"/>
<line x1="403.1" y1="1373.25" x2="409.9" y2="1373.25" stroke="#000" stroke-width="2.1" stroke-linecap="butt"/>
<line x1="406.5" y1="1369.85" x2="406.5" y2="1376.65" stroke="#000" stroke-width="2.1" stroke-linecap="butt"/>
<line x1="445.25" y1="1322" x2="445.25" y2="1332" stroke="#000" stroke-width="2.1" stroke-linecap="butt"/>
<line x1="445.25" y1="1359.5" x2="445.25" y2="1373.25" stroke="#000" stroke-width="2.1" stroke-linecap="butt"/>
<line x1="438.75" y1="1322" x2="451.75" y2="1322" stroke="#000" stroke-width="2.1" stroke-linecap="round"/>
<line x1="438.75" y1="1373.25" x2="451.75" y2="1373.25" stroke="#000" stroke-width="2.1" stroke-linecap="round"/>
<rect x="432.8" y="1332" width="24.9" height="27.5" fill="#c0c0c0" stroke="#000" stroke-width="2.1"/>
<line x1="432.8" y1="1345.5" x2="457.7" y2="1345.5" stroke="#000" stroke-width="2.1" stroke-linecap="butt"/>
<line x1="441.85" y1="1342" x2="448.65" y2="1342" stroke="#000" stroke-width="2.1" stroke-linecap="butt"/>
<line x1="445.25" y1="1338.6" x2="445.25" y2="1345.4" stroke="#000" stroke-width="2.1" stroke-linecap="butt"/>
<line x1="484.125" y1="1292" x2="484.125" y2="1312" stroke="#000" stroke-width="2.1" stroke-linecap="butt"/>
<line x1="484.125" y1="1358" x2="484.125" y2="1373.25" stroke="#000" stroke-width="2.1" stroke-linecap="butt"/>
<line x1="477.625" y1="1292" x2="490.625" y2="1292" stroke="#000" stroke-width="2.1" stroke-linecap="round"/>
<line x1="477.625" y1="1373.25" x2="490.625" y2="1373.25" stroke="#000" stroke-width="2.1" stroke-linecap="round"/>
<rect x="471.8" y="1312" width="24.65" height="46" fill="#c0c0c0" stroke="#000" stroke-width="2.1"/>
<line x1="471.8" y1="1348.25" x2="496.45" y2="1348.25" stroke="#000" stroke-width="2.1" stroke-linecap="butt"/>
<line x1="480.725" y1="1326.25" x2="487.525" y2="1326.25" stroke="#000" stroke-width="2.1" stroke-linecap="butt"/>
<line x1="484.125" y1="1322.85" x2="484.125" y2="1329.65" stroke="#000" stroke-width="2.1" stroke-linecap="butt"/>
<line x1="522.875" y1="1316.25" x2="522.875" y2="1318.25" stroke="#000" stroke-width="2.1" stroke-linecap="butt"/>
<line x1="522.875" y1="1350.5" x2="522.875" y2="1367.5" stroke="#000" stroke-width="2.1" stroke-linecap="butt"/>
<line x1="516.375" y1="1316.25" x2="529.375" y2="1316.25" stroke="#000" stroke-width="2.1" stroke-linecap="round"/>
<line x1="516.375" y1="1367.5" x2="529.375" y2="1367.5" stroke="#000" stroke-width="2.1" stroke-linecap="round"/>
<rect x="510.55" y="1318.25" width="24.65" height="32.25" fill="#c0c0c0" stroke="#000" stroke-width="2.1"/>
<line x1="510.55" y1="1338" x2="535.2" y2="1338" stroke="#000" stroke-width="2.1" stroke-linecap="butt"/>
<line x1="519.475" y1="1333" x2="526.275" y2="1333" stroke="#000" stroke-width="2.1" stroke-linecap="butt"/>
<line x1="522.875" y1="1329.6" x2="522.875" y2="1336.4" stroke="#000" stroke-width="2.1" stroke-linecap="butt"/>
<line x1="561.875" y1="1247" x2="561.875" y2="1250.75" stroke="#000" stroke-width="2.1" stroke-linecap="butt"/>
<line x1="561.875" y1="1265.75" x2="561.875" y2="1271.75" stroke="#000" stroke-width="2.1" stroke-linecap="butt"/>
<line x1="555.375" y1="1247" x2="568.375" y2="1247" stroke="#000" stroke-width="2.1" stroke-linecap="round"/>
<line x1="555.375" y1="1271.75" x2="568.375" y2="1271.75" stroke="#000" stroke-width="2.1" stroke-linecap="round"/>
<rect x="549.3" y="1250.75" width="25.15" height="15" fill="#c0c0c0" stroke="#000" stroke-width="2.1"/>
<line x1="549.3" y1="1257" x2="574.45" y2="1257" stroke="#000" stroke-width="2.1" stroke-linecap="butt"/>
<line x1="558.475" y1="1258" x2="565.275" y2="1258" stroke="#000" stroke-width="2.1" stroke-linecap="butt"/>
<line x1="561.875" y1="1254.6" x2="561.875" y2="1261.4" stroke="#000" stroke-width="2.1" stroke-linecap="butt"/>
<line x1="600.625" y1="1315.75" x2="600.625" y2="1330" stroke="#000" stroke-width="2.1" stroke-linecap="butt"/>
<line x1="594.125" y1="1315.75" x2="607.125" y2="1315.75" stroke="#000" stroke-width="2.1" stroke-linecap="round"/>
<line x1="594.125" y1="1330" x2="607.125" y2="1330" stroke="#000" stroke-width="2.1" stroke-linecap="round"/>
<line x1="587" y1="1322" x2="614.25" y2="1322" stroke="#000" stroke-width="2.1" stroke-linecap="butt"/>
<rect x="230.25" y="1230.65" width="25.6" height="13.5" fill="#fff" stroke="#000" stroke-width="2.3"/>
<rect x="230.25" y="1260.45" width="25.6" height="13.5" fill="#c0c0c0" stroke="#000" stroke-width="2.3"/>
<text x="271" y="1243.9" font-size="19.9" text-anchor="start" >D9</text>
<text x="271" y="1274" font-size="19.9" text-anchor="start" >Endpoint</text>
<text x="349.6" y="1187.8" font-size="23.4" text-anchor="start" >Tyk2</text>
<text x="39.3" y="1345.45" font-size="23.36" text-anchor="middle" transform="rotate(-90 39.3 1345.45)">mRNA relative quantification (AU)</text>
<text x="302.5" y="1313" font-size="22" text-anchor="middle" >*</text>
<text x="565.5" y="1229.2" font-size="20.4" text-anchor="middle" >(#)</text>
<text x="508.7" y="1439" font-size="19.6" text-anchor="start" >(#) p = 0.051</text>
<text x="0" y="0" font-size="43" transform="translate(826 1124.7) scale(1 1.045)">F</text>
<line x1="897.75" y1="1183.05" x2="897.75" y2="1509.35" stroke="#000" stroke-width="2.3" stroke-linecap="butt"/>
<line x1="896.6" y1="1508.2" x2="1440" y2="1508.2" stroke="#000" stroke-width="2.3" stroke-linecap="butt"/>
<line x1="893.3" y1="1183.8" x2="897.75" y2="1183.8" stroke="#000" stroke-width="1.5" stroke-linecap="butt"/>
<text x="889" y="1190.783" font-size="19.95" text-anchor="end" >10000</text>
<line x1="893.3" y1="1237.867" x2="897.75" y2="1237.867" stroke="#000" stroke-width="1.5" stroke-linecap="butt"/>
<text x="889" y="1244.849" font-size="19.95" text-anchor="end" >1000</text>
<line x1="893.3" y1="1291.933" x2="897.75" y2="1291.933" stroke="#000" stroke-width="1.5" stroke-linecap="butt"/>
<text x="889" y="1298.916" font-size="19.95" text-anchor="end" >100</text>
<line x1="893.3" y1="1346" x2="897.75" y2="1346" stroke="#000" stroke-width="1.5" stroke-linecap="butt"/>
<text x="889" y="1352.983" font-size="19.95" text-anchor="end" >10</text>
<line x1="893.3" y1="1400.067" x2="897.75" y2="1400.067" stroke="#000" stroke-width="1.5" stroke-linecap="butt"/>
<text x="889" y="1407.049" font-size="19.95" text-anchor="end" >1</text>
<line x1="893.3" y1="1454.133" x2="897.75" y2="1454.133" stroke="#000" stroke-width="1.5" stroke-linecap="butt"/>
<text x="889" y="1461.116" font-size="19.95" text-anchor="end" >0.1</text>
<line x1="893.3" y1="1508.2" x2="897.75" y2="1508.2" stroke="#000" stroke-width="1.5" stroke-linecap="butt"/>
<text x="889" y="1515.183" font-size="19.95" text-anchor="end" >0.01</text>
<line x1="894.95" y1="1221.591" x2="897.75" y2="1221.591" stroke="#000" stroke-width="1.275" stroke-linecap="butt"/>
<line x1="894.95" y1="1212.07" x2="897.75" y2="1212.07" stroke="#000" stroke-width="1.275" stroke-linecap="butt"/>
<line x1="894.95" y1="1205.315" x2="897.75" y2="1205.315" stroke="#000" stroke-width="1.275" stroke-linecap="butt"/>
<line x1="894.95" y1="1200.076" x2="897.75" y2="1200.076" stroke="#000" stroke-width="1.275" stroke-linecap="butt"/>
<line x1="894.95" y1="1195.795" x2="897.75" y2="1195.795" stroke="#000" stroke-width="1.275" stroke-linecap="butt"/>
<line x1="894.95" y1="1192.175" x2="897.75" y2="1192.175" stroke="#000" stroke-width="1.275" stroke-linecap="butt"/>
<line x1="894.95" y1="1189.04" x2="897.75" y2="1189.04" stroke="#000" stroke-width="1.275" stroke-linecap="butt"/>
<line x1="894.95" y1="1186.274" x2="897.75" y2="1186.274" stroke="#000" stroke-width="1.275" stroke-linecap="butt"/>
<line x1="894.95" y1="1275.658" x2="897.75" y2="1275.658" stroke="#000" stroke-width="1.275" stroke-linecap="butt"/>
<line x1="894.95" y1="1266.137" x2="897.75" y2="1266.137" stroke="#000" stroke-width="1.275" stroke-linecap="butt"/>
<line x1="894.95" y1="1259.382" x2="897.75" y2="1259.382" stroke="#000" stroke-width="1.275" stroke-linecap="butt"/>
<line x1="894.95" y1="1254.142" x2="897.75" y2="1254.142" stroke="#000" stroke-width="1.275" stroke-linecap="butt"/>
<line x1="894.95" y1="1249.861" x2="897.75" y2="1249.861" stroke="#000" stroke-width="1.275" stroke-linecap="butt"/>
<line x1="894.95" y1="1246.242" x2="897.75" y2="1246.242" stroke="#000" stroke-width="1.275" stroke-linecap="butt"/>
<line x1="894.95" y1="1243.106" x2="897.75" y2="1243.106" stroke="#000" stroke-width="1.275" stroke-linecap="butt"/>
<line x1="894.95" y1="1240.341" x2="897.75" y2="1240.341" stroke="#000" stroke-width="1.275" stroke-linecap="butt"/>
<line x1="894.95" y1="1329.724" x2="897.75" y2="1329.724" stroke="#000" stroke-width="1.275" stroke-linecap="butt"/>
<line x1="894.95" y1="1320.204" x2="897.75" y2="1320.204" stroke="#000" stroke-width="1.275" stroke-linecap="butt"/>
<line x1="894.95" y1="1313.449" x2="897.75" y2="1313.449" stroke="#000" stroke-width="1.275" stroke-linecap="butt"/>
<line x1="894.95" y1="1308.209" x2="897.75" y2="1308.209" stroke="#000" stroke-width="1.275" stroke-linecap="butt"/>
<line x1="894.95" y1="1303.928" x2="897.75" y2="1303.928" stroke="#000" stroke-width="1.275" stroke-linecap="butt"/>
<line x1="894.95" y1="1300.308" x2="897.75" y2="1300.308" stroke="#000" stroke-width="1.275" stroke-linecap="butt"/>
<line x1="894.95" y1="1297.173" x2="897.75" y2="1297.173" stroke="#000" stroke-width="1.275" stroke-linecap="butt"/>
<line x1="894.95" y1="1294.407" x2="897.75" y2="1294.407" stroke="#000" stroke-width="1.275" stroke-linecap="butt"/>
<line x1="894.95" y1="1383.791" x2="897.75" y2="1383.791" stroke="#000" stroke-width="1.275" stroke-linecap="butt"/>
<line x1="894.95" y1="1374.27" x2="897.75" y2="1374.27" stroke="#000" stroke-width="1.275" stroke-linecap="butt"/>
<line x1="894.95" y1="1367.515" x2="897.75" y2="1367.515" stroke="#000" stroke-width="1.275" stroke-linecap="butt"/>
<line x1="894.95" y1="1362.276" x2="897.75" y2="1362.276" stroke="#000" stroke-width="1.275" stroke-linecap="butt"/>
<line x1="894.95" y1="1357.995" x2="897.75" y2="1357.995" stroke="#000" stroke-width="1.275" stroke-linecap="butt"/>
<line x1="894.95" y1="1354.375" x2="897.75" y2="1354.375" stroke="#000" stroke-width="1.275" stroke-linecap="butt"/>
<line x1="894.95" y1="1351.24" x2="897.75" y2="1351.24" stroke="#000" stroke-width="1.275" stroke-linecap="butt"/>
<line x1="894.95" y1="1348.474" x2="897.75" y2="1348.474" stroke="#000" stroke-width="1.275" stroke-linecap="butt"/>
<line x1="894.95" y1="1437.858" x2="897.75" y2="1437.858" stroke="#000" stroke-width="1.275" stroke-linecap="butt"/>
<line x1="894.95" y1="1428.337" x2="897.75" y2="1428.337" stroke="#000" stroke-width="1.275" stroke-linecap="butt"/>
<line x1="894.95" y1="1421.582" x2="897.75" y2="1421.582" stroke="#000" stroke-width="1.275" stroke-linecap="butt"/>
<line x1="894.95" y1="1416.342" x2="897.75" y2="1416.342" stroke="#000" stroke-width="1.275" stroke-linecap="butt"/>
<line x1="894.95" y1="1412.061" x2="897.75" y2="1412.061" stroke="#000" stroke-width="1.275" stroke-linecap="butt"/>
<line x1="894.95" y1="1408.442" x2="897.75" y2="1408.442" stroke="#000" stroke-width="1.275" stroke-linecap="butt"/>
<line x1="894.95" y1="1405.306" x2="897.75" y2="1405.306" stroke="#000" stroke-width="1.275" stroke-linecap="butt"/>
<line x1="894.95" y1="1402.541" x2="897.75" y2="1402.541" stroke="#000" stroke-width="1.275" stroke-linecap="butt"/>
<line x1="894.95" y1="1491.924" x2="897.75" y2="1491.924" stroke="#000" stroke-width="1.275" stroke-linecap="butt"/>
<line x1="894.95" y1="1482.404" x2="897.75" y2="1482.404" stroke="#000" stroke-width="1.275" stroke-linecap="butt"/>
<line x1="894.95" y1="1475.649" x2="897.75" y2="1475.649" stroke="#000" stroke-width="1.275" stroke-linecap="butt"/>
<line x1="894.95" y1="1470.409" x2="897.75" y2="1470.409" stroke="#000" stroke-width="1.275" stroke-linecap="butt"/>
<line x1="894.95" y1="1466.128" x2="897.75" y2="1466.128" stroke="#000" stroke-width="1.275" stroke-linecap="butt"/>
<line x1="894.95" y1="1462.508" x2="897.75" y2="1462.508" stroke="#000" stroke-width="1.275" stroke-linecap="butt"/>
<line x1="894.95" y1="1459.373" x2="897.75" y2="1459.373" stroke="#000" stroke-width="1.275" stroke-linecap="butt"/>
<line x1="894.95" y1="1456.607" x2="897.75" y2="1456.607" stroke="#000" stroke-width="1.275" stroke-linecap="butt"/>
<line x1="931.25" y1="1508.2" x2="931.25" y2="1512.2" stroke="#000" stroke-width="1.5" stroke-linecap="butt"/>
<line x1="972" y1="1508.2" x2="972" y2="1512.2" stroke="#000" stroke-width="1.5" stroke-linecap="butt"/>
<line x1="1012.5" y1="1508.2" x2="1012.5" y2="1512.2" stroke="#000" stroke-width="1.5" stroke-linecap="butt"/>
<line x1="1053.25" y1="1508.2" x2="1053.25" y2="1512.2" stroke="#000" stroke-width="1.5" stroke-linecap="butt"/>
<line x1="1094.25" y1="1508.2" x2="1094.25" y2="1512.2" stroke="#000" stroke-width="1.5" stroke-linecap="butt"/>
<line x1="1134.5" y1="1508.2" x2="1134.5" y2="1512.2" stroke="#000" stroke-width="1.5" stroke-linecap="butt"/>
<line x1="1202" y1="1508.2" x2="1202" y2="1512.2" stroke="#000" stroke-width="1.5" stroke-linecap="butt"/>
<line x1="1243" y1="1508.2" x2="1243" y2="1512.2" stroke="#000" stroke-width="1.5" stroke-linecap="butt"/>
<line x1="1283.75" y1="1508.2" x2="1283.75" y2="1512.2" stroke="#000" stroke-width="1.5" stroke-linecap="butt"/>
<line x1="1324.25" y1="1508.2" x2="1324.25" y2="1512.2" stroke="#000" stroke-width="1.5" stroke-linecap="butt"/>
<line x1="1365" y1="1508.2" x2="1365" y2="1512.2" stroke="#000" stroke-width="1.5" stroke-linecap="butt"/>
<line x1="1405.75" y1="1508.2" x2="1405.75" y2="1512.2" stroke="#000" stroke-width="1.5" stroke-linecap="butt"/>
<text x="937.05" y="1532.5" font-size="23.47" text-anchor="end" transform="rotate(-45 937.05 1532.5)">Mock</text>
<text x="977.8" y="1532.5" font-size="23.47" text-anchor="end" transform="rotate(-45 977.8 1532.5)">Tha</text>
<text x="1018.3" y="1532.5" font-size="23.47" text-anchor="end" transform="rotate(-45 1018.3 1532.5)">Th2P</text>
<text x="1059.05" y="1532.5" font-size="23.47" text-anchor="end" transform="rotate(-45 1059.05 1532.5)">Th4M&#160;</text>
<text x="1100.05" y="1532.5" font-size="23.47" text-anchor="end" transform="rotate(-45 1100.05 1532.5)">Th2P-4M&#160;</text>
<text x="1140.3" y="1532.5" font-size="23.47" text-anchor="end" transform="rotate(-45 1140.3 1532.5)">Th2P-4M survivors</text>
<text x="1207.8" y="1532.5" font-size="23.47" text-anchor="end" transform="rotate(-45 1207.8 1532.5)">Mock</text>
<text x="1248.8" y="1532.5" font-size="23.47" text-anchor="end" transform="rotate(-45 1248.8 1532.5)">Tha</text>
<text x="1289.55" y="1532.5" font-size="23.47" text-anchor="end" transform="rotate(-45 1289.55 1532.5)">Th2P</text>
<text x="1330.05" y="1532.5" font-size="23.47" text-anchor="end" transform="rotate(-45 1330.05 1532.5)">Th4M&#160;</text>
<text x="1370.8" y="1532.5" font-size="23.47" text-anchor="end" transform="rotate(-45 1370.8 1532.5)">Th2P-4M&#160;</text>
<text x="1411.55" y="1532.5" font-size="23.47" text-anchor="end" transform="rotate(-45 1411.55 1532.5)">Th2P-4M survivors</text>
<line x1="931.625" y1="1388.75" x2="931.625" y2="1395" stroke="#000" stroke-width="2.1" stroke-linecap="butt"/>
<line x1="931.625" y1="1422" x2="931.625" y2="1476.75" stroke="#000" stroke-width="2.1" stroke-linecap="butt"/>
<line x1="925.125" y1="1388.75" x2="938.125" y2="1388.75" stroke="#000" stroke-width="2.1" stroke-linecap="round"/>
<line x1="925.125" y1="1476.75" x2="938.125" y2="1476.75" stroke="#000" stroke-width="2.1" stroke-linecap="round"/>
<rect x="918.55" y="1395" width="26.15" height="27" fill="#fff" stroke="#000" stroke-width="2.1"/>
<line x1="918.55" y1="1407" x2="944.7" y2="1407" stroke="#000" stroke-width="2.1" stroke-linecap="butt"/>
<line x1="928.225" y1="1405" x2="935.025" y2="1405" stroke="#000" stroke-width="2.1" stroke-linecap="butt"/>
<line x1="931.625" y1="1401.6" x2="931.625" y2="1408.4" stroke="#000" stroke-width="2.1" stroke-linecap="butt"/>
<line x1="972.25" y1="1387" x2="972.25" y2="1390.75" stroke="#000" stroke-width="2.1" stroke-linecap="butt"/>
<line x1="972.25" y1="1420.5" x2="972.25" y2="1458" stroke="#000" stroke-width="2.1" stroke-linecap="butt"/>
<line x1="965.75" y1="1387" x2="978.75" y2="1387" stroke="#000" stroke-width="2.1" stroke-linecap="round"/>
<line x1="965.75" y1="1458" x2="978.75" y2="1458" stroke="#000" stroke-width="2.1" stroke-linecap="round"/>
<rect x="959.3" y="1390.75" width="25.9" height="29.75" fill="#fff" stroke="#000" stroke-width="2.1"/>
<line x1="959.3" y1="1400" x2="985.2" y2="1400" stroke="#000" stroke-width="2.1" stroke-linecap="butt"/>
<line x1="968.85" y1="1401.25" x2="975.65" y2="1401.25" stroke="#000" stroke-width="2.1" stroke-linecap="butt"/>
<line x1="972.25" y1="1397.85" x2="972.25" y2="1404.65" stroke="#000" stroke-width="2.1" stroke-linecap="butt"/>
<line x1="1013.125" y1="1367.5" x2="1013.125" y2="1375.75" stroke="#000" stroke-width="2.1" stroke-linecap="butt"/>
<line x1="1013.125" y1="1402.5" x2="1013.125" y2="1413.75" stroke="#000" stroke-width="2.1" stroke-linecap="butt"/>
<line x1="1006.625" y1="1367.5" x2="1019.625" y2="1367.5" stroke="#000" stroke-width="2.1" stroke-linecap="round"/>
<line x1="1006.625" y1="1413.75" x2="1019.625" y2="1413.75" stroke="#000" stroke-width="2.1" stroke-linecap="round"/>
<rect x="1000.3" y="1375.75" width="25.65" height="26.75" fill="#fff" stroke="#000" stroke-width="2.1"/>
<line x1="1000.3" y1="1388.75" x2="1025.95" y2="1388.75" stroke="#000" stroke-width="2.1" stroke-linecap="butt"/>
<line x1="1009.725" y1="1385.5" x2="1016.525" y2="1385.5" stroke="#000" stroke-width="2.1" stroke-linecap="butt"/>
<line x1="1013.125" y1="1382.1" x2="1013.125" y2="1388.9" stroke="#000" stroke-width="2.1" stroke-linecap="butt"/>
<line x1="1054" y1="1376.25" x2="1054" y2="1379.5" stroke="#000" stroke-width="2.1" stroke-linecap="butt"/>
<line x1="1054" y1="1399.5" x2="1054" y2="1400.75" stroke="#000" stroke-width="2.1" stroke-linecap="butt"/>
<line x1="1047.5" y1="1376.25" x2="1060.5" y2="1376.25" stroke="#000" stroke-width="2.1" stroke-linecap="round"/>
<line x1="1047.5" y1="1400.75" x2="1060.5" y2="1400.75" stroke="#000" stroke-width="2.1" stroke-linecap="round"/>
<rect x="1041.05" y="1379.5" width="25.9" height="20" fill="#fff" stroke="#000" stroke-width="2.1"/>
<line x1="1041.05" y1="1381.25" x2="1066.95" y2="1381.25" stroke="#000" stroke-width="2.1" stroke-linecap="butt"/>
<line x1="1050.6" y1="1386.25" x2="1057.4" y2="1386.25" stroke="#000" stroke-width="2.1" stroke-linecap="butt"/>
<line x1="1054" y1="1382.85" x2="1054" y2="1389.65" stroke="#000" stroke-width="2.1" stroke-linecap="butt"/>
<line x1="1094.5" y1="1352.5" x2="1094.5" y2="1357" stroke="#000" stroke-width="2.1" stroke-linecap="butt"/>
<line x1="1094.5" y1="1369.5" x2="1094.5" y2="1375.5" stroke="#000" stroke-width="2.1" stroke-linecap="butt"/>
<line x1="1088" y1="1352.5" x2="1101" y2="1352.5" stroke="#000" stroke-width="2.1" stroke-linecap="round"/>
<line x1="1088" y1="1375.5" x2="1101" y2="1375.5" stroke="#000" stroke-width="2.1" stroke-linecap="round"/>
<rect x="1081.8" y="1357" width="25.4" height="12.5" fill="#fff" stroke="#000" stroke-width="2.1"/>
<line x1="1081.8" y1="1362.5" x2="1107.2" y2="1362.5" stroke="#000" stroke-width="2.1" stroke-linecap="butt"/>
<line x1="1091.1" y1="1362.5" x2="1097.9" y2="1362.5" stroke="#000" stroke-width="2.1" stroke-linecap="butt"/>
<line x1="1094.5" y1="1359.1" x2="1094.5" y2="1365.9" stroke="#000" stroke-width="2.1" stroke-linecap="butt"/>
<line x1="1202.125" y1="1365" x2="1202.125" y2="1383.75" stroke="#000" stroke-width="2.1" stroke-linecap="butt"/>
<line x1="1202.125" y1="1401.25" x2="1202.125" y2="1408.75" stroke="#000" stroke-width="2.1" stroke-linecap="butt"/>
<line x1="1195.625" y1="1365" x2="1208.625" y2="1365" stroke="#000" stroke-width="2.1" stroke-linecap="round"/>
<line x1="1195.625" y1="1408.75" x2="1208.625" y2="1408.75" stroke="#000" stroke-width="2.1" stroke-linecap="round"/>
<rect x="1189.05" y="1383.75" width="26.15" height="17.5" fill="#c0c0c0" stroke="#000" stroke-width="2.1"/>
<line x1="1189.05" y1="1396.25" x2="1215.2" y2="1396.25" stroke="#000" stroke-width="2.1" stroke-linecap="butt"/>
<line x1="1198.725" y1="1388.75" x2="1205.525" y2="1388.75" stroke="#000" stroke-width="2.1" stroke-linecap="butt"/>
<line x1="1202.125" y1="1385.35" x2="1202.125" y2="1392.15" stroke="#000" stroke-width="2.1" stroke-linecap="butt"/>
<line x1="1242.875" y1="1327" x2="1242.875" y2="1334.5" stroke="#000" stroke-width="2.1" stroke-linecap="butt"/>
<line x1="1242.875" y1="1355.75" x2="1242.875" y2="1362.5" stroke="#000" stroke-width="2.1" stroke-linecap="butt"/>
<line x1="1236.375" y1="1327" x2="1249.375" y2="1327" stroke="#000" stroke-width="2.1" stroke-linecap="round"/>
<line x1="1236.375" y1="1362.5" x2="1249.375" y2="1362.5" stroke="#000" stroke-width="2.1" stroke-linecap="round"/>
<rect x="1229.8" y="1334.5" width="26.15" height="21.25" fill="#c0c0c0" stroke="#000" stroke-width="2.1"/>
<line x1="1229.8" y1="1349.5" x2="1255.95" y2="1349.5" stroke="#000" stroke-width="2.1" stroke-linecap="butt"/>
<line x1="1239.475" y1="1343.25" x2="1246.275" y2="1343.25" stroke="#000" stroke-width="2.1" stroke-linecap="butt"/>
<line x1="1242.875" y1="1339.85" x2="1242.875" y2="1346.65" stroke="#000" stroke-width="2.1" stroke-linecap="butt"/>
<line x1="1283.75" y1="1293" x2="1283.75" y2="1298" stroke="#000" stroke-width="2.1" stroke-linecap="butt"/>
<line x1="1283.75" y1="1335.5" x2="1283.75" y2="1344.5" stroke="#000" stroke-width="2.1" stroke-linecap="butt"/>
<line x1="1277.25" y1="1293" x2="1290.25" y2="1293" stroke="#000" stroke-width="2.1" stroke-linecap="round"/>
<line x1="1277.25" y1="1344.5" x2="1290.25" y2="1344.5" stroke="#000" stroke-width="2.1" stroke-linecap="round"/>
<rect x="1270.55" y="1298" width="26.4" height="37.5" fill="#c0c0c0" stroke="#000" stroke-width="2.1"/>
<line x1="1270.55" y1="1307" x2="1296.95" y2="1307" stroke="#000" stroke-width="2.1" stroke-linecap="butt"/>
<line x1="1280.35" y1="1308" x2="1287.15" y2="1308" stroke="#000" stroke-width="2.1" stroke-linecap="butt"/>
<line x1="1283.75" y1="1304.6" x2="1283.75" y2="1311.4" stroke="#000" stroke-width="2.1" stroke-linecap="butt"/>
<line x1="1324.625" y1="1253" x2="1324.625" y2="1255" stroke="#000" stroke-width="2.1" stroke-linecap="butt"/>
<line x1="1324.625" y1="1289.25" x2="1324.625" y2="1293" stroke="#000" stroke-width="2.1" stroke-linecap="butt"/>
<line x1="1318.125" y1="1253" x2="1331.125" y2="1253" stroke="#000" stroke-width="2.1" stroke-linecap="round"/>
<line x1="1318.125" y1="1293" x2="1331.125" y2="1293" stroke="#000" stroke-width="2.1" stroke-linecap="round"/>
<rect x="1311.55" y="1255" width="26.15" height="34.25" fill="#c0c0c0" stroke="#000" stroke-width="2.1"/>
<line x1="1311.55" y1="1273" x2="1337.7" y2="1273" stroke="#000" stroke-width="2.1" stroke-linecap="butt"/>
<line x1="1321.225" y1="1268" x2="1328.025" y2="1268" stroke="#000" stroke-width="2.1" stroke-linecap="butt"/>
<line x1="1324.625" y1="1264.6" x2="1324.625" y2="1271.4" stroke="#000" stroke-width="2.1" stroke-linecap="butt"/>
<line x1="1365" y1="1198.75" x2="1365" y2="1204.5" stroke="#000" stroke-width="2.1" stroke-linecap="butt"/>
<line x1="1365" y1="1238.75" x2="1365" y2="1240.75" stroke="#000" stroke-width="2.1" stroke-linecap="butt"/>
<line x1="1358.5" y1="1198.75" x2="1371.5" y2="1198.75" stroke="#000" stroke-width="2.1" stroke-linecap="round"/>
<line x1="1358.5" y1="1240.75" x2="1371.5" y2="1240.75" stroke="#000" stroke-width="2.1" stroke-linecap="round"/>
<rect x="1351.8" y="1204.5" width="26.4" height="34.25" fill="#c0c0c0" stroke="#000" stroke-width="2.1"/>
<line x1="1351.8" y1="1233.75" x2="1378.2" y2="1233.75" stroke="#000" stroke-width="2.1" stroke-linecap="butt"/>
<line x1="1361.6" y1="1220" x2="1368.4" y2="1220" stroke="#000" stroke-width="2.1" stroke-linecap="butt"/>
<line x1="1365" y1="1216.6" x2="1365" y2="1223.4" stroke="#000" stroke-width="2.1" stroke-linecap="butt"/>
<line x1="1405.625" y1="1332.5" x2="1405.625" y2="1346.25" stroke="#000" stroke-width="2.1" stroke-linecap="butt"/>
<line x1="1399.125" y1="1332.5" x2="1412.125" y2="1332.5" stroke="#000" stroke-width="2.1" stroke-linecap="round"/>
<line x1="1399.125" y1="1346.25" x2="1412.125" y2="1346.25" stroke="#000" stroke-width="2.1" stroke-linecap="round"/>
<line x1="1391.25" y1="1338.25" x2="1420" y2="1338.25" stroke="#000" stroke-width="2.1" stroke-linecap="butt"/>
<rect x="1042.2" y="1222.3" width="26" height="13.9" fill="#fff" stroke="#000" stroke-width="2.2"/>
<rect x="1042.2" y="1251" width="26" height="13.9" fill="#c0c0c0" stroke="#000" stroke-width="2.2"/>
<text x="1082.6" y="1236.2" font-size="19.5" text-anchor="start" >D9</text>
<text x="1082.6" y="1264.5" font-size="19.5" text-anchor="start" >Endpoint</text>
<text x="1137.6" y="1148.9" font-size="22.9" text-anchor="start" font-style="italic" >IFN&#946;1</text>
<text x="823.7" y="1344.2" font-size="22.87" text-anchor="middle" transform="rotate(-90 823.7 1344.2)">mRNA relative quantification (AU)</text>
<text x="1322.5" y="1236.7" font-size="20.4" text-anchor="middle" >(#)</text>
<text x="0" y="0" font-size="19.2" text-anchor="middle" transform="translate(1365 1186.8) scale(1 1.12)">#</text>
<text x="1270.5" y="1433.6" font-size="19.45" text-anchor="start" >(#) p= 0.053</text>
<text x="0" y="0" font-size="43" transform="translate(1.6 1736.3) scale(1 1.045)">G</text>
<line x1="115.4" y1="1788.65" x2="115.4" y2="2129.7" stroke="#000" stroke-width="2.3" stroke-linecap="butt"/>
<line x1="114.25" y1="2128.55" x2="622.5" y2="2128.55" stroke="#000" stroke-width="2.3" stroke-linecap="butt"/>
<line x1="111.1" y1="1789.4" x2="115.4" y2="1789.4" stroke="#000" stroke-width="1.5" stroke-linecap="butt"/>
<text x="106.4" y="1796.138" font-size="19.25" text-anchor="end" >1000</text>
<line x1="111.1" y1="1857.23" x2="115.4" y2="1857.23" stroke="#000" stroke-width="1.5" stroke-linecap="butt"/>
<text x="106.4" y="1863.967" font-size="19.25" text-anchor="end" >100</text>
<line x1="111.1" y1="1925.06" x2="115.4" y2="1925.06" stroke="#000" stroke-width="1.5" stroke-linecap="butt"/>
<text x="106.4" y="1931.798" font-size="19.25" text-anchor="end" >10</text>
<line x1="111.1" y1="1992.89" x2="115.4" y2="1992.89" stroke="#000" stroke-width="1.5" stroke-linecap="butt"/>
<text x="106.4" y="1999.628" font-size="19.25" text-anchor="end" >1</text>
<line x1="111.1" y1="2060.72" x2="115.4" y2="2060.72" stroke="#000" stroke-width="1.5" stroke-linecap="butt"/>
<text x="106.4" y="2067.458" font-size="19.25" text-anchor="end" >0.1</text>
<line x1="111.1" y1="2128.55" x2="115.4" y2="2128.55" stroke="#000" stroke-width="1.5" stroke-linecap="butt"/>
<text x="106.4" y="2135.288" font-size="19.25" text-anchor="end" >0.01</text>
<line x1="112.6" y1="1836.811" x2="115.4" y2="1836.811" stroke="#000" stroke-width="1.275" stroke-linecap="butt"/>
<line x1="112.6" y1="1824.867" x2="115.4" y2="1824.867" stroke="#000" stroke-width="1.275" stroke-linecap="butt"/>
<line x1="112.6" y1="1816.392" x2="115.4" y2="1816.392" stroke="#000" stroke-width="1.275" stroke-linecap="butt"/>
<line x1="112.6" y1="1809.819" x2="115.4" y2="1809.819" stroke="#000" stroke-width="1.275" stroke-linecap="butt"/>
<line x1="112.6" y1="1804.448" x2="115.4" y2="1804.448" stroke="#000" stroke-width="1.275" stroke-linecap="butt"/>
<line x1="112.6" y1="1799.907" x2="115.4" y2="1799.907" stroke="#000" stroke-width="1.275" stroke-linecap="butt"/>
<line x1="112.6" y1="1795.973" x2="115.4" y2="1795.973" stroke="#000" stroke-width="1.275" stroke-linecap="butt"/>
<line x1="112.6" y1="1792.504" x2="115.4" y2="1792.504" stroke="#000" stroke-width="1.275" stroke-linecap="butt"/>
<line x1="112.6" y1="1904.641" x2="115.4" y2="1904.641" stroke="#000" stroke-width="1.275" stroke-linecap="butt"/>
<line x1="112.6" y1="1892.697" x2="115.4" y2="1892.697" stroke="#000" stroke-width="1.275" stroke-linecap="butt"/>
<line x1="112.6" y1="1884.222" x2="115.4" y2="1884.222" stroke="#000" stroke-width="1.275" stroke-linecap="butt"/>
<line x1="112.6" y1="1877.649" x2="115.4" y2="1877.649" stroke="#000" stroke-width="1.275" stroke-linecap="butt"/>
<line x1="112.6" y1="1872.278" x2="115.4" y2="1872.278" stroke="#000" stroke-width="1.275" stroke-linecap="butt"/>
<line x1="112.6" y1="1867.737" x2="115.4" y2="1867.737" stroke="#000" stroke-width="1.275" stroke-linecap="butt"/>
<line x1="112.6" y1="1863.803" x2="115.4" y2="1863.803" stroke="#000" stroke-width="1.275" stroke-linecap="butt"/>
<line x1="112.6" y1="1860.334" x2="115.4" y2="1860.334" stroke="#000" stroke-width="1.275" stroke-linecap="butt"/>
<line x1="112.6" y1="1972.471" x2="115.4" y2="1972.471" stroke="#000" stroke-width="1.275" stroke-linecap="butt"/>
<line x1="112.6" y1="1960.527" x2="115.4" y2="1960.527" stroke="#000" stroke-width="1.275" stroke-linecap="butt"/>
<line x1="112.6" y1="1952.052" x2="115.4" y2="1952.052" stroke="#000" stroke-width="1.275" stroke-linecap="butt"/>
<line x1="112.6" y1="1945.479" x2="115.4" y2="1945.479" stroke="#000" stroke-width="1.275" stroke-linecap="butt"/>
<line x1="112.6" y1="1940.108" x2="115.4" y2="1940.108" stroke="#000" stroke-width="1.275" stroke-linecap="butt"/>
<line x1="112.6" y1="1935.567" x2="115.4" y2="1935.567" stroke="#000" stroke-width="1.275" stroke-linecap="butt"/>
<line x1="112.6" y1="1931.633" x2="115.4" y2="1931.633" stroke="#000" stroke-width="1.275" stroke-linecap="butt"/>
<line x1="112.6" y1="1928.164" x2="115.4" y2="1928.164" stroke="#000" stroke-width="1.275" stroke-linecap="butt"/>
<line x1="112.6" y1="2040.301" x2="115.4" y2="2040.301" stroke="#000" stroke-width="1.275" stroke-linecap="butt"/>
<line x1="112.6" y1="2028.357" x2="115.4" y2="2028.357" stroke="#000" stroke-width="1.275" stroke-linecap="butt"/>
<line x1="112.6" y1="2019.882" x2="115.4" y2="2019.882" stroke="#000" stroke-width="1.275" stroke-linecap="butt"/>
<line x1="112.6" y1="2013.309" x2="115.4" y2="2013.309" stroke="#000" stroke-width="1.275" stroke-linecap="butt"/>
<line x1="112.6" y1="2007.938" x2="115.4" y2="2007.938" stroke="#000" stroke-width="1.275" stroke-linecap="butt"/>
<line x1="112.6" y1="2003.397" x2="115.4" y2="2003.397" stroke="#000" stroke-width="1.275" stroke-linecap="butt"/>
<line x1="112.6" y1="1999.463" x2="115.4" y2="1999.463" stroke="#000" stroke-width="1.275" stroke-linecap="butt"/>
<line x1="112.6" y1="1995.994" x2="115.4" y2="1995.994" stroke="#000" stroke-width="1.275" stroke-linecap="butt"/>
<line x1="112.6" y1="2108.131" x2="115.4" y2="2108.131" stroke="#000" stroke-width="1.275" stroke-linecap="butt"/>
<line x1="112.6" y1="2096.187" x2="115.4" y2="2096.187" stroke="#000" stroke-width="1.275" stroke-linecap="butt"/>
<line x1="112.6" y1="2087.712" x2="115.4" y2="2087.712" stroke="#000" stroke-width="1.275" stroke-linecap="butt"/>
<line x1="112.6" y1="2081.139" x2="115.4" y2="2081.139" stroke="#000" stroke-width="1.275" stroke-linecap="butt"/>
<line x1="112.6" y1="2075.768" x2="115.4" y2="2075.768" stroke="#000" stroke-width="1.275" stroke-linecap="butt"/>
<line x1="112.6" y1="2071.227" x2="115.4" y2="2071.227" stroke="#000" stroke-width="1.275" stroke-linecap="butt"/>
<line x1="112.6" y1="2067.293" x2="115.4" y2="2067.293" stroke="#000" stroke-width="1.275" stroke-linecap="butt"/>
<line x1="112.6" y1="2063.824" x2="115.4" y2="2063.824" stroke="#000" stroke-width="1.275" stroke-linecap="butt"/>
<line x1="147.1" y1="2128.55" x2="147.1" y2="2132.55" stroke="#000" stroke-width="1.5" stroke-linecap="butt"/>
<line x1="185.1" y1="2128.55" x2="185.1" y2="2132.55" stroke="#000" stroke-width="1.5" stroke-linecap="butt"/>
<line x1="223.1" y1="2128.55" x2="223.1" y2="2132.55" stroke="#000" stroke-width="1.5" stroke-linecap="butt"/>
<line x1="261.4" y1="2128.55" x2="261.4" y2="2132.55" stroke="#000" stroke-width="1.5" stroke-linecap="butt"/>
<line x1="299.4" y1="2128.55" x2="299.4" y2="2132.55" stroke="#000" stroke-width="1.5" stroke-linecap="butt"/>
<line x1="337" y1="2128.55" x2="337" y2="2132.55" stroke="#000" stroke-width="1.5" stroke-linecap="butt"/>
<line x1="400.5" y1="2128.55" x2="400.5" y2="2132.55" stroke="#000" stroke-width="1.5" stroke-linecap="butt"/>
<line x1="438.25" y1="2128.55" x2="438.25" y2="2132.55" stroke="#000" stroke-width="1.5" stroke-linecap="butt"/>
<line x1="476.25" y1="2128.55" x2="476.25" y2="2132.55" stroke="#000" stroke-width="1.5" stroke-linecap="butt"/>
<line x1="514.25" y1="2128.55" x2="514.25" y2="2132.55" stroke="#000" stroke-width="1.5" stroke-linecap="butt"/>
<line x1="552.5" y1="2128.55" x2="552.5" y2="2132.55" stroke="#000" stroke-width="1.5" stroke-linecap="butt"/>
<line x1="590.75" y1="2128.55" x2="590.75" y2="2132.55" stroke="#000" stroke-width="1.5" stroke-linecap="butt"/>
<text x="152.4" y="2151.95" font-size="22.96" text-anchor="end" transform="rotate(-45 152.4 2151.95)">Mock</text>
<text x="190.4" y="2151.95" font-size="22.96" text-anchor="end" transform="rotate(-45 190.4 2151.95)">Tha</text>
<text x="228.4" y="2151.95" font-size="22.96" text-anchor="end" transform="rotate(-45 228.4 2151.95)">Th2P</text>
<text x="266.7" y="2151.95" font-size="22.96" text-anchor="end" transform="rotate(-45 266.7 2151.95)">Th4M&#160;</text>
<text x="304.7" y="2151.95" font-size="22.96" text-anchor="end" transform="rotate(-45 304.7 2151.95)">Th2P-4M&#160;</text>
<text x="342.3" y="2151.95" font-size="22.96" text-anchor="end" transform="rotate(-45 342.3 2151.95)">Th2P-4M survivors</text>
<text x="405.8" y="2151.95" font-size="22.96" text-anchor="end" transform="rotate(-45 405.8 2151.95)">Mock</text>
<text x="443.55" y="2151.95" font-size="22.96" text-anchor="end" transform="rotate(-45 443.55 2151.95)">Tha</text>
<text x="481.55" y="2151.95" font-size="22.96" text-anchor="end" transform="rotate(-45 481.55 2151.95)">Th2P</text>
<text x="519.55" y="2151.95" font-size="22.96" text-anchor="end" transform="rotate(-45 519.55 2151.95)">Th4M&#160;</text>
<text x="557.8" y="2151.95" font-size="22.96" text-anchor="end" transform="rotate(-45 557.8 2151.95)">Th2P-4M&#160;</text>
<text x="596.05" y="2151.95" font-size="22.96" text-anchor="end" transform="rotate(-45 596.05 2151.95)">Th2P-4M survivors</text>
<line x1="147.125" y1="1977" x2="147.125" y2="1982" stroke="#000" stroke-width="2.1" stroke-linecap="butt"/>
<line x1="147.125" y1="1993.75" x2="147.125" y2="1996.25" stroke="#000" stroke-width="2.1" stroke-linecap="butt"/>
<line x1="140.625" y1="1977" x2="153.625" y2="1977" stroke="#000" stroke-width="2.1" stroke-linecap="round"/>
<line x1="140.625" y1="1996.25" x2="153.625" y2="1996.25" stroke="#000" stroke-width="2.1" stroke-linecap="round"/>
<rect x="134.8" y="1982" width="24.65" height="11.75" fill="#fff" stroke="#000" stroke-width="2.1"/>
<line x1="134.8" y1="1992" x2="159.45" y2="1992" stroke="#000" stroke-width="2.1" stroke-linecap="butt"/>
<line x1="143.725" y1="1988.25" x2="150.525" y2="1988.25" stroke="#000" stroke-width="2.1" stroke-linecap="butt"/>
<line x1="147.125" y1="1984.85" x2="147.125" y2="1991.65" stroke="#000" stroke-width="2.1" stroke-linecap="butt"/>
<line x1="185.125" y1="1974.5" x2="185.125" y2="1980" stroke="#000" stroke-width="2.1" stroke-linecap="butt"/>
<line x1="185.125" y1="2005.5" x2="185.125" y2="2013" stroke="#000" stroke-width="2.1" stroke-linecap="butt"/>
<line x1="178.625" y1="1974.5" x2="191.625" y2="1974.5" stroke="#000" stroke-width="2.1" stroke-linecap="round"/>
<line x1="178.625" y1="2013" x2="191.625" y2="2013" stroke="#000" stroke-width="2.1" stroke-linecap="round"/>
<rect x="173.05" y="1980" width="24.15" height="25.5" fill="#fff" stroke="#000" stroke-width="2.1"/>
<line x1="173.05" y1="1986.25" x2="197.2" y2="1986.25" stroke="#000" stroke-width="2.1" stroke-linecap="butt"/>
<line x1="181.725" y1="1989.5" x2="188.525" y2="1989.5" stroke="#000" stroke-width="2.1" stroke-linecap="butt"/>
<line x1="185.125" y1="1986.1" x2="185.125" y2="1992.9" stroke="#000" stroke-width="2.1" stroke-linecap="butt"/>
<line x1="223.125" y1="1969.25" x2="223.125" y2="1974.5" stroke="#000" stroke-width="2.1" stroke-linecap="butt"/>
<line x1="223.125" y1="2029.25" x2="223.125" y2="2038.75" stroke="#000" stroke-width="2.1" stroke-linecap="butt"/>
<line x1="216.625" y1="1969.25" x2="229.625" y2="1969.25" stroke="#000" stroke-width="2.1" stroke-linecap="round"/>
<line x1="216.625" y1="2038.75" x2="229.625" y2="2038.75" stroke="#000" stroke-width="2.1" stroke-linecap="round"/>
<rect x="211.05" y="1974.5" width="24.15" height="54.75" fill="#fff" stroke="#000" stroke-width="2.1"/>
<line x1="211.05" y1="1988.75" x2="235.2" y2="1988.75" stroke="#000" stroke-width="2.1" stroke-linecap="butt"/>
<line x1="219.725" y1="1990" x2="226.525" y2="1990" stroke="#000" stroke-width="2.1" stroke-linecap="butt"/>
<line x1="223.125" y1="1986.6" x2="223.125" y2="1993.4" stroke="#000" stroke-width="2.1" stroke-linecap="butt"/>
<line x1="261.375" y1="1969.5" x2="261.375" y2="1974.25" stroke="#000" stroke-width="2.1" stroke-linecap="butt"/>
<line x1="261.375" y1="2017.5" x2="261.375" y2="2048.75" stroke="#000" stroke-width="2.1" stroke-linecap="butt"/>
<line x1="254.875" y1="1969.5" x2="267.875" y2="1969.5" stroke="#000" stroke-width="2.1" stroke-linecap="round"/>
<line x1="254.875" y1="2048.75" x2="267.875" y2="2048.75" stroke="#000" stroke-width="2.1" stroke-linecap="round"/>
<rect x="249.3" y="1974.25" width="24.15" height="43.25" fill="#fff" stroke="#000" stroke-width="2.1"/>
<line x1="249.3" y1="1981.25" x2="273.45" y2="1981.25" stroke="#000" stroke-width="2.1" stroke-linecap="butt"/>
<line x1="257.975" y1="1987" x2="264.775" y2="1987" stroke="#000" stroke-width="2.1" stroke-linecap="butt"/>
<line x1="261.375" y1="1983.6" x2="261.375" y2="1990.4" stroke="#000" stroke-width="2.1" stroke-linecap="butt"/>
<line x1="299.375" y1="1983.75" x2="299.375" y2="1988" stroke="#000" stroke-width="2.1" stroke-linecap="butt"/>
<line x1="299.375" y1="2010" x2="299.375" y2="2032.5" stroke="#000" stroke-width="2.1" stroke-linecap="butt"/>
<line x1="292.875" y1="1983.75" x2="305.875" y2="1983.75" stroke="#000" stroke-width="2.1" stroke-linecap="round"/>
<line x1="292.875" y1="2032.5" x2="305.875" y2="2032.5" stroke="#000" stroke-width="2.1" stroke-linecap="round"/>
<rect x="287.3" y="1988" width="24.15" height="22" fill="#fff" stroke="#000" stroke-width="2.1"/>
<line x1="287.3" y1="1994.5" x2="311.45" y2="1994.5" stroke="#000" stroke-width="2.1" stroke-linecap="butt"/>
<line x1="295.975" y1="1996.25" x2="302.775" y2="1996.25" stroke="#000" stroke-width="2.1" stroke-linecap="butt"/>
<line x1="299.375" y1="1992.85" x2="299.375" y2="1999.65" stroke="#000" stroke-width="2.1" stroke-linecap="butt"/>
<line x1="400.625" y1="1980" x2="400.625" y2="1988.25" stroke="#000" stroke-width="2.1" stroke-linecap="butt"/>
<line x1="400.625" y1="2033" x2="400.625" y2="2049.25" stroke="#000" stroke-width="2.1" stroke-linecap="butt"/>
<line x1="394.125" y1="1980" x2="407.125" y2="1980" stroke="#000" stroke-width="2.1" stroke-linecap="round"/>
<line x1="394.125" y1="2049.25" x2="407.125" y2="2049.25" stroke="#000" stroke-width="2.1" stroke-linecap="round"/>
<rect x="388.55" y="1988.25" width="24.15" height="44.75" fill="#c0c0c0" stroke="#000" stroke-width="2.1"/>
<line x1="388.55" y1="1993" x2="412.7" y2="1993" stroke="#000" stroke-width="2.1" stroke-linecap="butt"/>
<line x1="397.225" y1="1998.25" x2="404.025" y2="1998.25" stroke="#000" stroke-width="2.1" stroke-linecap="butt"/>
<line x1="400.625" y1="1994.85" x2="400.625" y2="2001.65" stroke="#000" stroke-width="2.1" stroke-linecap="butt"/>
<line x1="438.5" y1="1979.5" x2="438.5" y2="2011.75" stroke="#000" stroke-width="2.1" stroke-linecap="butt"/>
<line x1="438.5" y1="2080" x2="438.5" y2="2081.25" stroke="#000" stroke-width="2.1" stroke-linecap="butt"/>
<line x1="432" y1="1979.5" x2="445" y2="1979.5" stroke="#000" stroke-width="2.1" stroke-linecap="round"/>
<line x1="432" y1="2081.25" x2="445" y2="2081.25" stroke="#000" stroke-width="2.1" stroke-linecap="round"/>
<rect x="426.8" y="2011.75" width="23.4" height="68.25" fill="#c0c0c0" stroke="#000" stroke-width="2.1"/>
<line x1="426.8" y1="2059.5" x2="450.2" y2="2059.5" stroke="#000" stroke-width="2.1" stroke-linecap="butt"/>
<line x1="435.1" y1="2023.75" x2="441.9" y2="2023.75" stroke="#000" stroke-width="2.1" stroke-linecap="butt"/>
<line x1="438.5" y1="2020.35" x2="438.5" y2="2027.15" stroke="#000" stroke-width="2.1" stroke-linecap="butt"/>
<line x1="476.625" y1="1974.25" x2="476.625" y2="2008.25" stroke="#000" stroke-width="2.1" stroke-linecap="butt"/>
<line x1="476.625" y1="2067.5" x2="476.625" y2="2071.25" stroke="#000" stroke-width="2.1" stroke-linecap="butt"/>
<line x1="470.125" y1="1974.25" x2="483.125" y2="1974.25" stroke="#000" stroke-width="2.1" stroke-linecap="round"/>
<line x1="470.125" y1="2071.25" x2="483.125" y2="2071.25" stroke="#000" stroke-width="2.1" stroke-linecap="round"/>
<rect x="464.8" y="2008.25" width="23.65" height="59.25" fill="#c0c0c0" stroke="#000" stroke-width="2.1"/>
<line x1="464.8" y1="2064.5" x2="488.45" y2="2064.5" stroke="#000" stroke-width="2.1" stroke-linecap="butt"/>
<line x1="473.225" y1="2020" x2="480.025" y2="2020" stroke="#000" stroke-width="2.1" stroke-linecap="butt"/>
<line x1="476.625" y1="2016.6" x2="476.625" y2="2023.4" stroke="#000" stroke-width="2.1" stroke-linecap="butt"/>
<line x1="514.625" y1="1986.75" x2="514.625" y2="1993" stroke="#000" stroke-width="2.1" stroke-linecap="butt"/>
<line x1="514.625" y1="2028" x2="514.625" y2="2058" stroke="#000" stroke-width="2.1" stroke-linecap="butt"/>
<line x1="508.125" y1="1986.75" x2="521.125" y2="1986.75" stroke="#000" stroke-width="2.1" stroke-linecap="round"/>
<line x1="508.125" y1="2058" x2="521.125" y2="2058" stroke="#000" stroke-width="2.1" stroke-linecap="round"/>
<rect x="502.8" y="1993" width="23.65" height="35" fill="#c0c0c0" stroke="#000" stroke-width="2.1"/>
<line x1="502.8" y1="2016.75" x2="526.45" y2="2016.75" stroke="#000" stroke-width="2.1" stroke-linecap="butt"/>
<line x1="511.225" y1="2008.25" x2="518.025" y2="2008.25" stroke="#000" stroke-width="2.1" stroke-linecap="butt"/>
<line x1="514.625" y1="2004.85" x2="514.625" y2="2011.65" stroke="#000" stroke-width="2.1" stroke-linecap="butt"/>
<line x1="552.625" y1="1989.5" x2="552.625" y2="1993.25" stroke="#000" stroke-width="2.1" stroke-linecap="butt"/>
<line x1="552.625" y1="2021.75" x2="552.625" y2="2025.75" stroke="#000" stroke-width="2.1" stroke-linecap="butt"/>
<line x1="546.125" y1="1989.5" x2="559.125" y2="1989.5" stroke="#000" stroke-width="2.1" stroke-linecap="round"/>
<line x1="546.125" y1="2025.75" x2="559.125" y2="2025.75" stroke="#000" stroke-width="2.1" stroke-linecap="round"/>
<rect x="540.55" y="1993.25" width="24.15" height="28.5" fill="#c0c0c0" stroke="#000" stroke-width="2.1"/>
<line x1="540.55" y1="2007" x2="564.7" y2="2007" stroke="#000" stroke-width="2.1" stroke-linecap="butt"/>
<line x1="549.225" y1="2004.5" x2="556.025" y2="2004.5" stroke="#000" stroke-width="2.1" stroke-linecap="butt"/>
<line x1="552.625" y1="2001.1" x2="552.625" y2="2007.9" stroke="#000" stroke-width="2.1" stroke-linecap="butt"/>
<line x1="590.375" y1="1973" x2="590.375" y2="2000" stroke="#000" stroke-width="2.1" stroke-linecap="butt"/>
<line x1="583.875" y1="1973" x2="596.875" y2="1973" stroke="#000" stroke-width="2.1" stroke-linecap="round"/>
<line x1="583.875" y1="2000" x2="596.875" y2="2000" stroke="#000" stroke-width="2.1" stroke-linecap="round"/>
<line x1="577" y1="1983.25" x2="603.75" y2="1983.25" stroke="#000" stroke-width="2.1" stroke-linecap="butt"/>
<rect x="257.2" y="1797.3" width="25.1" height="13.3" fill="#fff" stroke="#000" stroke-width="2.2"/>
<rect x="257.2" y="1830.5" width="25.1" height="13.3" fill="#c0c0c0" stroke="#000" stroke-width="2.2"/>
<text x="296.2" y="1810.9" font-size="19.05" text-anchor="start" >D9</text>
<text x="296.2" y="1843.9" font-size="19.05" text-anchor="start" >Endpoint</text>
<text x="345.4" y="1769.9" font-size="21.5" text-anchor="start" >Jak1</text>
<text x="29.8" y="1957.05" font-size="22.35" text-anchor="middle" transform="rotate(-90 29.8 1957.05)">mRNA relative quantification (AU)</text>
<text x="0" y="0" font-size="43" transform="translate(815.2 1735.2) scale(1 1.045)">H</text>
<line x1="911.25" y1="1833.15" x2="911.25" y2="2129.7" stroke="#000" stroke-width="2.3" stroke-linecap="butt"/>
<line x1="910.1" y1="2128.55" x2="1419.25" y2="2128.55" stroke="#000" stroke-width="2.3" stroke-linecap="butt"/>
<line x1="907.1" y1="1833.9" x2="911.25" y2="1833.9" stroke="#000" stroke-width="1.5" stroke-linecap="butt"/>
<text x="902.8" y="1840.725" font-size="19.5" text-anchor="end" >1000</text>
<line x1="907.1" y1="1892.83" x2="911.25" y2="1892.83" stroke="#000" stroke-width="1.5" stroke-linecap="butt"/>
<text x="902.8" y="1899.655" font-size="19.5" text-anchor="end" >100</text>
<line x1="907.1" y1="1951.76" x2="911.25" y2="1951.76" stroke="#000" stroke-width="1.5" stroke-linecap="butt"/>
<text x="902.8" y="1958.585" font-size="19.5" text-anchor="end" >10</text>
<line x1="907.1" y1="2010.69" x2="911.25" y2="2010.69" stroke="#000" stroke-width="1.5" stroke-linecap="butt"/>
<text x="902.8" y="2017.515" font-size="19.5" text-anchor="end" >1</text>
<line x1="907.1" y1="2069.62" x2="911.25" y2="2069.62" stroke="#000" stroke-width="1.5" stroke-linecap="butt"/>
<text x="902.8" y="2076.445" font-size="19.5" text-anchor="end" >0.1</text>
<line x1="907.1" y1="2128.55" x2="911.25" y2="2128.55" stroke="#000" stroke-width="1.5" stroke-linecap="butt"/>
<text x="902.8" y="2135.375" font-size="19.5" text-anchor="end" >0.01</text>
<line x1="908.45" y1="1875.09" x2="911.25" y2="1875.09" stroke="#000" stroke-width="1.275" stroke-linecap="butt"/>
<line x1="908.45" y1="1864.713" x2="911.25" y2="1864.713" stroke="#000" stroke-width="1.275" stroke-linecap="butt"/>
<line x1="908.45" y1="1857.351" x2="911.25" y2="1857.351" stroke="#000" stroke-width="1.275" stroke-linecap="butt"/>
<line x1="908.45" y1="1851.64" x2="911.25" y2="1851.64" stroke="#000" stroke-width="1.275" stroke-linecap="butt"/>
<line x1="908.45" y1="1846.974" x2="911.25" y2="1846.974" stroke="#000" stroke-width="1.275" stroke-linecap="butt"/>
<line x1="908.45" y1="1843.028" x2="911.25" y2="1843.028" stroke="#000" stroke-width="1.275" stroke-linecap="butt"/>
<line x1="908.45" y1="1839.611" x2="911.25" y2="1839.611" stroke="#000" stroke-width="1.275" stroke-linecap="butt"/>
<line x1="908.45" y1="1836.596" x2="911.25" y2="1836.596" stroke="#000" stroke-width="1.275" stroke-linecap="butt"/>
<line x1="908.45" y1="1934.02" x2="911.25" y2="1934.02" stroke="#000" stroke-width="1.275" stroke-linecap="butt"/>
<line x1="908.45" y1="1923.643" x2="911.25" y2="1923.643" stroke="#000" stroke-width="1.275" stroke-linecap="butt"/>
<line x1="908.45" y1="1916.281" x2="911.25" y2="1916.281" stroke="#000" stroke-width="1.275" stroke-linecap="butt"/>
<line x1="908.45" y1="1910.57" x2="911.25" y2="1910.57" stroke="#000" stroke-width="1.275" stroke-linecap="butt"/>
<line x1="908.45" y1="1905.904" x2="911.25" y2="1905.904" stroke="#000" stroke-width="1.275" stroke-linecap="butt"/>
<line x1="908.45" y1="1901.958" x2="911.25" y2="1901.958" stroke="#000" stroke-width="1.275" stroke-linecap="butt"/>
<line x1="908.45" y1="1898.541" x2="911.25" y2="1898.541" stroke="#000" stroke-width="1.275" stroke-linecap="butt"/>
<line x1="908.45" y1="1895.526" x2="911.25" y2="1895.526" stroke="#000" stroke-width="1.275" stroke-linecap="butt"/>
<line x1="908.45" y1="1992.95" x2="911.25" y2="1992.95" stroke="#000" stroke-width="1.275" stroke-linecap="butt"/>
<line x1="908.45" y1="1982.573" x2="911.25" y2="1982.573" stroke="#000" stroke-width="1.275" stroke-linecap="butt"/>
<line x1="908.45" y1="1975.211" x2="911.25" y2="1975.211" stroke="#000" stroke-width="1.275" stroke-linecap="butt"/>
<line x1="908.45" y1="1969.5" x2="911.25" y2="1969.5" stroke="#000" stroke-width="1.275" stroke-linecap="butt"/>
<line x1="908.45" y1="1964.834" x2="911.25" y2="1964.834" stroke="#000" stroke-width="1.275" stroke-linecap="butt"/>
<line x1="908.45" y1="1960.888" x2="911.25" y2="1960.888" stroke="#000" stroke-width="1.275" stroke-linecap="butt"/>
<line x1="908.45" y1="1957.471" x2="911.25" y2="1957.471" stroke="#000" stroke-width="1.275" stroke-linecap="butt"/>
<line x1="908.45" y1="1954.456" x2="911.25" y2="1954.456" stroke="#000" stroke-width="1.275" stroke-linecap="butt"/>
<line x1="908.45" y1="2051.88" x2="911.25" y2="2051.88" stroke="#000" stroke-width="1.275" stroke-linecap="butt"/>
<line x1="908.45" y1="2041.503" x2="911.25" y2="2041.503" stroke="#000" stroke-width="1.275" stroke-linecap="butt"/>
<line x1="908.45" y1="2034.141" x2="911.25" y2="2034.141" stroke="#000" stroke-width="1.275" stroke-linecap="butt"/>
<line x1="908.45" y1="2028.43" x2="911.25" y2="2028.43" stroke="#000" stroke-width="1.275" stroke-linecap="butt"/>
<line x1="908.45" y1="2023.764" x2="911.25" y2="2023.764" stroke="#000" stroke-width="1.275" stroke-linecap="butt"/>
<line x1="908.45" y1="2019.818" x2="911.25" y2="2019.818" stroke="#000" stroke-width="1.275" stroke-linecap="butt"/>
<line x1="908.45" y1="2016.401" x2="911.25" y2="2016.401" stroke="#000" stroke-width="1.275" stroke-linecap="butt"/>
<line x1="908.45" y1="2013.386" x2="911.25" y2="2013.386" stroke="#000" stroke-width="1.275" stroke-linecap="butt"/>
<line x1="908.45" y1="2110.81" x2="911.25" y2="2110.81" stroke="#000" stroke-width="1.275" stroke-linecap="butt"/>
<line x1="908.45" y1="2100.433" x2="911.25" y2="2100.433" stroke="#000" stroke-width="1.275" stroke-linecap="butt"/>
<line x1="908.45" y1="2093.071" x2="911.25" y2="2093.071" stroke="#000" stroke-width="1.275" stroke-linecap="butt"/>
<line x1="908.45" y1="2087.36" x2="911.25" y2="2087.36" stroke="#000" stroke-width="1.275" stroke-linecap="butt"/>
<line x1="908.45" y1="2082.694" x2="911.25" y2="2082.694" stroke="#000" stroke-width="1.275" stroke-linecap="butt"/>
<line x1="908.45" y1="2078.748" x2="911.25" y2="2078.748" stroke="#000" stroke-width="1.275" stroke-linecap="butt"/>
<line x1="908.45" y1="2075.331" x2="911.25" y2="2075.331" stroke="#000" stroke-width="1.275" stroke-linecap="butt"/>
<line x1="908.45" y1="2072.316" x2="911.25" y2="2072.316" stroke="#000" stroke-width="1.275" stroke-linecap="butt"/>
<line x1="942.5" y1="2128.55" x2="942.5" y2="2132.55" stroke="#000" stroke-width="1.5" stroke-linecap="butt"/>
<line x1="980.75" y1="2128.55" x2="980.75" y2="2132.55" stroke="#000" stroke-width="1.5" stroke-linecap="butt"/>
<line x1="1018.75" y1="2128.55" x2="1018.75" y2="2132.55" stroke="#000" stroke-width="1.5" stroke-linecap="butt"/>
<line x1="1057" y1="2128.55" x2="1057" y2="2132.55" stroke="#000" stroke-width="1.5" stroke-linecap="butt"/>
<line x1="1095" y1="2128.55" x2="1095" y2="2132.55" stroke="#000" stroke-width="1.5" stroke-linecap="butt"/>
<line x1="1133" y1="2128.55" x2="1133" y2="2132.55" stroke="#000" stroke-width="1.5" stroke-linecap="butt"/>
<line x1="1196.25" y1="2128.55" x2="1196.25" y2="2132.55" stroke="#000" stroke-width="1.5" stroke-linecap="butt"/>
<line x1="1235" y1="2128.55" x2="1235" y2="2132.55" stroke="#000" stroke-width="1.5" stroke-linecap="butt"/>
<line x1="1273" y1="2128.55" x2="1273" y2="2132.55" stroke="#000" stroke-width="1.5" stroke-linecap="butt"/>
<line x1="1310.75" y1="2128.55" x2="1310.75" y2="2132.55" stroke="#000" stroke-width="1.5" stroke-linecap="butt"/>
<line x1="1349.25" y1="2128.55" x2="1349.25" y2="2132.55" stroke="#000" stroke-width="1.5" stroke-linecap="butt"/>
<line x1="1387" y1="2128.55" x2="1387" y2="2132.55" stroke="#000" stroke-width="1.5" stroke-linecap="butt"/>
<text x="948.1" y="2151.85" font-size="23" text-anchor="end" transform="rotate(-45 948.1 2151.85)">Mock</text>
<text x="986.35" y="2151.85" font-size="23" text-anchor="end" transform="rotate(-45 986.35 2151.85)">Tha</text>
<text x="1024.35" y="2151.85" font-size="23" text-anchor="end" transform="rotate(-45 1024.35 2151.85)">Th2P</text>
<text x="1062.6" y="2151.85" font-size="23" text-anchor="end" transform="rotate(-45 1062.6 2151.85)">Th4M&#160;</text>
<text x="1100.6" y="2151.85" font-size="23" text-anchor="end" transform="rotate(-45 1100.6 2151.85)">Th2P-4M&#160;</text>
<text x="1138.6" y="2151.85" font-size="23" text-anchor="end" transform="rotate(-45 1138.6 2151.85)">Th2P-4M survivors</text>
<text x="1201.85" y="2151.85" font-size="23" text-anchor="end" transform="rotate(-45 1201.85 2151.85)">Mock</text>
<text x="1240.6" y="2151.85" font-size="23" text-anchor="end" transform="rotate(-45 1240.6 2151.85)">Tha</text>
<text x="1278.6" y="2151.85" font-size="23" text-anchor="end" transform="rotate(-45 1278.6 2151.85)">Th2P</text>
<text x="1316.35" y="2151.85" font-size="23" text-anchor="end" transform="rotate(-45 1316.35 2151.85)">Th4M&#160;</text>
<text x="1354.85" y="2151.85" font-size="23" text-anchor="end" transform="rotate(-45 1354.85 2151.85)">Th2P-4M&#160;</text>
<text x="1392.6" y="2151.85" font-size="23" text-anchor="end" transform="rotate(-45 1392.6 2151.85)">Th2P-4M survivors</text>
<line x1="943.125" y1="1990" x2="943.125" y2="1993.75" stroke="#000" stroke-width="2.1" stroke-linecap="butt"/>
<line x1="943.125" y1="2010" x2="943.125" y2="2012" stroke="#000" stroke-width="2.1" stroke-linecap="butt"/>
<line x1="936.625" y1="1990" x2="949.625" y2="1990" stroke="#000" stroke-width="2.1" stroke-linecap="round"/>
<line x1="936.625" y1="2012" x2="949.625" y2="2012" stroke="#000" stroke-width="2.1" stroke-linecap="round"/>
<rect x="931.05" y="1993.75" width="24.15" height="16.25" fill="#fff" stroke="#000" stroke-width="2.1"/>
<line x1="931.05" y1="2003" x2="955.2" y2="2003" stroke="#000" stroke-width="2.1" stroke-linecap="butt"/>
<line x1="939.725" y1="2000.75" x2="946.525" y2="2000.75" stroke="#000" stroke-width="2.1" stroke-linecap="butt"/>
<line x1="943.125" y1="1997.35" x2="943.125" y2="2004.15" stroke="#000" stroke-width="2.1" stroke-linecap="butt"/>
<line x1="981.125" y1="1985" x2="981.125" y2="1986.75" stroke="#000" stroke-width="2.1" stroke-linecap="butt"/>
<line x1="981.125" y1="2015.75" x2="981.125" y2="2026.25" stroke="#000" stroke-width="2.1" stroke-linecap="butt"/>
<line x1="974.625" y1="1985" x2="987.625" y2="1985" stroke="#000" stroke-width="2.1" stroke-linecap="round"/>
<line x1="974.625" y1="2026.25" x2="987.625" y2="2026.25" stroke="#000" stroke-width="2.1" stroke-linecap="round"/>
<rect x="969.05" y="1986.75" width="24.15" height="29" fill="#fff" stroke="#000" stroke-width="2.1"/>
<line x1="969.05" y1="2002.5" x2="993.2" y2="2002.5" stroke="#000" stroke-width="2.1" stroke-linecap="butt"/>
<line x1="977.725" y1="1997.5" x2="984.525" y2="1997.5" stroke="#000" stroke-width="2.1" stroke-linecap="butt"/>
<line x1="981.125" y1="1994.1" x2="981.125" y2="2000.9" stroke="#000" stroke-width="2.1" stroke-linecap="butt"/>
<line x1="1019.375" y1="1985" x2="1019.375" y2="1990" stroke="#000" stroke-width="2.1" stroke-linecap="butt"/>
<line x1="1019.375" y1="2010.5" x2="1019.375" y2="2018.25" stroke="#000" stroke-width="2.1" stroke-linecap="butt"/>
<line x1="1012.875" y1="1985" x2="1025.875" y2="1985" stroke="#000" stroke-width="2.1" stroke-linecap="round"/>
<line x1="1012.875" y1="2018.25" x2="1025.875" y2="2018.25" stroke="#000" stroke-width="2.1" stroke-linecap="round"/>
<rect x="1007.3" y="1990" width="24.15" height="20.5" fill="#fff" stroke="#000" stroke-width="2.1"/>
<line x1="1007.3" y1="2006.25" x2="1031.45" y2="2006.25" stroke="#000" stroke-width="2.1" stroke-linecap="butt"/>
<line x1="1015.975" y1="1999.5" x2="1022.775" y2="1999.5" stroke="#000" stroke-width="2.1" stroke-linecap="butt"/>
<line x1="1019.375" y1="1996.1" x2="1019.375" y2="2002.9" stroke="#000" stroke-width="2.1" stroke-linecap="butt"/>
<line x1="1057.5" y1="2001.25" x2="1057.5" y2="2002.5" stroke="#000" stroke-width="2.1" stroke-linecap="butt"/>
<line x1="1057.5" y1="2026.25" x2="1057.5" y2="2050.5" stroke="#000" stroke-width="2.1" stroke-linecap="butt"/>
<line x1="1051" y1="2001.25" x2="1064" y2="2001.25" stroke="#000" stroke-width="2.1" stroke-linecap="round"/>
<line x1="1051" y1="2050.5" x2="1064" y2="2050.5" stroke="#000" stroke-width="2.1" stroke-linecap="round"/>
<rect x="1045.55" y="2002.5" width="23.9" height="23.75" fill="#fff" stroke="#000" stroke-width="2.1"/>
<line x1="1045.55" y1="2005.5" x2="1069.45" y2="2005.5" stroke="#000" stroke-width="2.1" stroke-linecap="butt"/>
<line x1="1054.1" y1="2010.5" x2="1060.9" y2="2010.5" stroke="#000" stroke-width="2.1" stroke-linecap="butt"/>
<line x1="1057.5" y1="2007.1" x2="1057.5" y2="2013.9" stroke="#000" stroke-width="2.1" stroke-linecap="butt"/>
<line x1="1095.625" y1="1977" x2="1095.625" y2="1981.75" stroke="#000" stroke-width="2.1" stroke-linecap="butt"/>
<line x1="1095.625" y1="2008" x2="1095.625" y2="2025" stroke="#000" stroke-width="2.1" stroke-linecap="butt"/>
<line x1="1089.125" y1="1977" x2="1102.125" y2="1977" stroke="#000" stroke-width="2.1" stroke-linecap="round"/>
<line x1="1089.125" y1="2025" x2="1102.125" y2="2025" stroke="#000" stroke-width="2.1" stroke-linecap="round"/>
<rect x="1083.55" y="1981.75" width="24.15" height="26.25" fill="#fff" stroke="#000" stroke-width="2.1"/>
<line x1="1083.55" y1="1994.5" x2="1107.7" y2="1994.5" stroke="#000" stroke-width="2.1" stroke-linecap="butt"/>
<line x1="1092.225" y1="1991.75" x2="1099.025" y2="1991.75" stroke="#000" stroke-width="2.1" stroke-linecap="butt"/>
<line x1="1095.625" y1="1988.35" x2="1095.625" y2="1995.15" stroke="#000" stroke-width="2.1" stroke-linecap="butt"/>
<line x1="1196.875" y1="1993.75" x2="1196.875" y2="1998.75" stroke="#000" stroke-width="2.1" stroke-linecap="butt"/>
<line x1="1196.875" y1="2017.5" x2="1196.875" y2="2024.25" stroke="#000" stroke-width="2.1" stroke-linecap="butt"/>
<line x1="1190.375" y1="1993.75" x2="1203.375" y2="1993.75" stroke="#000" stroke-width="2.1" stroke-linecap="round"/>
<line x1="1190.375" y1="2024.25" x2="1203.375" y2="2024.25" stroke="#000" stroke-width="2.1" stroke-linecap="round"/>
<rect x="1184.8" y="1998.75" width="24.15" height="18.75" fill="#c0c0c0" stroke="#000" stroke-width="2.1"/>
<line x1="1184.8" y1="2007.5" x2="1208.95" y2="2007.5" stroke="#000" stroke-width="2.1" stroke-linecap="butt"/>
<line x1="1193.475" y1="2005.75" x2="1200.275" y2="2005.75" stroke="#000" stroke-width="2.1" stroke-linecap="butt"/>
<line x1="1196.875" y1="2002.35" x2="1196.875" y2="2009.15" stroke="#000" stroke-width="2.1" stroke-linecap="butt"/>
<line x1="1234.875" y1="1992.5" x2="1234.875" y2="1996.25" stroke="#000" stroke-width="2.1" stroke-linecap="butt"/>
<line x1="1234.875" y1="2030.5" x2="1234.875" y2="2110.75" stroke="#000" stroke-width="2.1" stroke-linecap="butt"/>
<line x1="1228.375" y1="1992.5" x2="1241.375" y2="1992.5" stroke="#000" stroke-width="2.1" stroke-linecap="round"/>
<line x1="1228.375" y1="2110.75" x2="1241.375" y2="2110.75" stroke="#000" stroke-width="2.1" stroke-linecap="round"/>
<rect x="1222.8" y="1996.25" width="24.15" height="34.25" fill="#c0c0c0" stroke="#000" stroke-width="2.1"/>
<line x1="1222.8" y1="2016.25" x2="1246.95" y2="2016.25" stroke="#000" stroke-width="2.1" stroke-linecap="butt"/>
<line x1="1231.475" y1="2010.75" x2="1238.275" y2="2010.75" stroke="#000" stroke-width="2.1" stroke-linecap="butt"/>
<line x1="1234.875" y1="2007.35" x2="1234.875" y2="2014.15" stroke="#000" stroke-width="2.1" stroke-linecap="butt"/>
<line x1="1273.125" y1="1922.5" x2="1273.125" y2="1932" stroke="#000" stroke-width="2.1" stroke-linecap="butt"/>
<line x1="1273.125" y1="1981.25" x2="1273.125" y2="2004.5" stroke="#000" stroke-width="2.1" stroke-linecap="butt"/>
<line x1="1266.625" y1="1922.5" x2="1279.625" y2="1922.5" stroke="#000" stroke-width="2.1" stroke-linecap="round"/>
<line x1="1266.625" y1="2004.5" x2="1279.625" y2="2004.5" stroke="#000" stroke-width="2.1" stroke-linecap="round"/>
<rect x="1261.05" y="1932" width="24.15" height="49.25" fill="#c0c0c0" stroke="#000" stroke-width="2.1"/>
<line x1="1261.05" y1="1953" x2="1285.2" y2="1953" stroke="#000" stroke-width="2.1" stroke-linecap="butt"/>
<line x1="1269.725" y1="1946.25" x2="1276.525" y2="1946.25" stroke="#000" stroke-width="2.1" stroke-linecap="butt"/>
<line x1="1273.125" y1="1942.85" x2="1273.125" y2="1949.65" stroke="#000" stroke-width="2.1" stroke-linecap="butt"/>
<line x1="1311.125" y1="1945" x2="1311.125" y2="1949.5" stroke="#000" stroke-width="2.1" stroke-linecap="butt"/>
<line x1="1311.125" y1="2013.25" x2="1311.125" y2="2049.5" stroke="#000" stroke-width="2.1" stroke-linecap="butt"/>
<line x1="1304.625" y1="1945" x2="1317.625" y2="1945" stroke="#000" stroke-width="2.1" stroke-linecap="round"/>
<line x1="1304.625" y1="2049.5" x2="1317.625" y2="2049.5" stroke="#000" stroke-width="2.1" stroke-linecap="round"/>
<rect x="1299.05" y="1949.5" width="24.15" height="63.75" fill="#c0c0c0" stroke="#000" stroke-width="2.1"/>
<line x1="1299.05" y1="1967.5" x2="1323.2" y2="1967.5" stroke="#000" stroke-width="2.1" stroke-linecap="butt"/>
<line x1="1307.725" y1="1965" x2="1314.525" y2="1965" stroke="#000" stroke-width="2.1" stroke-linecap="butt"/>
<line x1="1311.125" y1="1961.6" x2="1311.125" y2="1968.4" stroke="#000" stroke-width="2.1" stroke-linecap="butt"/>
<line x1="1349.375" y1="1915.75" x2="1349.375" y2="1920.5" stroke="#000" stroke-width="2.1" stroke-linecap="butt"/>
<line x1="1349.375" y1="1957.5" x2="1349.375" y2="1966.75" stroke="#000" stroke-width="2.1" stroke-linecap="butt"/>
<line x1="1342.875" y1="1915.75" x2="1355.875" y2="1915.75" stroke="#000" stroke-width="2.1" stroke-linecap="round"/>
<line x1="1342.875" y1="1966.75" x2="1355.875" y2="1966.75" stroke="#000" stroke-width="2.1" stroke-linecap="round"/>
<rect x="1337.3" y="1920.5" width="24.15" height="37" fill="#c0c0c0" stroke="#000" stroke-width="2.1"/>
<line x1="1337.3" y1="1941.25" x2="1361.45" y2="1941.25" stroke="#000" stroke-width="2.1" stroke-linecap="butt"/>
<line x1="1345.975" y1="1935" x2="1352.775" y2="1935" stroke="#000" stroke-width="2.1" stroke-linecap="butt"/>
<line x1="1349.375" y1="1931.6" x2="1349.375" y2="1938.4" stroke="#000" stroke-width="2.1" stroke-linecap="butt"/>
<line x1="1387.125" y1="1996.25" x2="1387.125" y2="2015" stroke="#000" stroke-width="2.1" stroke-linecap="butt"/>
<line x1="1380.625" y1="1996.25" x2="1393.625" y2="1996.25" stroke="#000" stroke-width="2.1" stroke-linecap="round"/>
<line x1="1380.625" y1="2015" x2="1393.625" y2="2015" stroke="#000" stroke-width="2.1" stroke-linecap="round"/>
<line x1="1373.75" y1="2003.75" x2="1400.5" y2="2003.75" stroke="#000" stroke-width="2.1" stroke-linecap="butt"/>
<rect x="1068.35" y="1851.95" width="25.2" height="13.3" fill="#fff" stroke="#000" stroke-width="2.3"/>
<rect x="1068.35" y="1874.25" width="25.2" height="13.3" fill="#c0c0c0" stroke="#000" stroke-width="2.3"/>
<text x="1107.6" y="1865" font-size="19.05" text-anchor="start" >D9</text>
<text x="1107.6" y="1887" font-size="19.05" text-anchor="start" >Endpoint</text>
<text x="1139.3" y="1796.7" font-size="21.4" text-anchor="start" >Stat1</text>
<text x="845.6" y="1979.3" font-size="22.4" text-anchor="middle" transform="rotate(-90 845.6 1979.3)">mRNA relative quantification (AU)</text>
<text x="0" y="0" font-size="19.2" text-anchor="middle" transform="translate(1272.5 1906.7) scale(1 1.12)">#</text>
<text x="0" y="0" font-size="19.2" text-anchor="middle" transform="translate(1350 1904.3) scale(1 1.12)">#</text>
</svg>
</body></html>
